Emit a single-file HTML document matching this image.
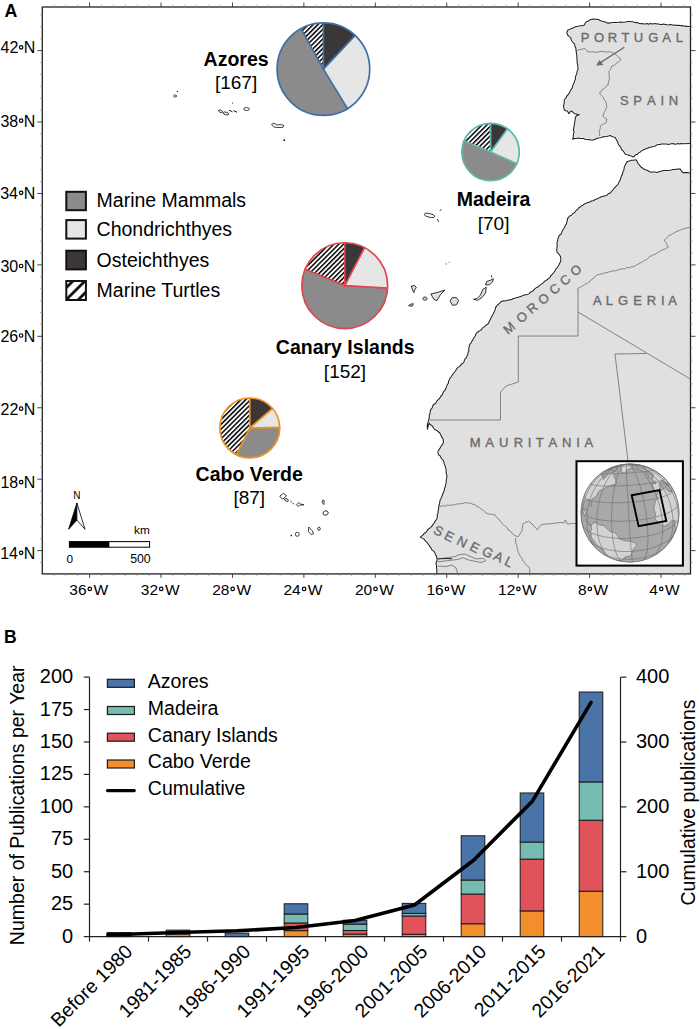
<!DOCTYPE html>
<html><head><meta charset="utf-8"><style>
html,body{margin:0;padding:0;background:#fff;overflow:hidden;width:700px;height:1029px;}
svg{display:block;}
text{font-family:"Liberation Sans", sans-serif;}
</style></head><body>
<svg width="700" height="1029" viewBox="0 0 700 1029" font-family='"Liberation Sans", sans-serif'>
<defs>
<pattern id="hatch" patternUnits="userSpaceOnUse" width="3.4" height="3.4" patternTransform="rotate(45)">
<rect width="3.4" height="3.4" fill="#fff"/><rect width="1.5" height="3.4" fill="#000"/>
</pattern>
<pattern id="hatchL" patternUnits="userSpaceOnUse" width="8.5" height="8.5" patternTransform="translate(76,300) rotate(45)">
<rect width="8.5" height="8.5" fill="#fff"/><rect x="0" width="2.8" height="8.5" fill="#111"/>
</pattern>
<clipPath id="mapclip"><rect x="42.3" y="7" width="648.2" height="566.9"/></clipPath>
</defs>

<g clip-path="url(#mapclip)">
<path d="M691.0,26.5 L689.2,26.5 L687.4,26.5 L685.7,25.9 L683.9,26.2 L682.1,25.6 L680.4,25.6 L678.6,25.3 L676.8,25.6 L675.2,25.0 L673.4,25.3 L671.7,24.8 L670.0,24.6 L668.4,24.9 L666.8,24.8 L665.2,24.4 L663.6,24.0 L661.9,24.6 L660.3,24.4 L658.7,24.0 L657.1,24.0 L655.4,23.6 L653.8,23.8 L652.1,24.0 L650.4,23.4 L648.8,24.2 L647.1,23.4 L645.4,23.9 L643.8,24.0 L642.1,23.6 L640.4,23.7 L638.9,23.2 L637.3,22.5 L635.7,22.8 L634.1,22.2 L632.5,21.8 L630.9,21.8 L629.3,21.4 L627.5,21.5 L625.8,22.1 L624.0,22.2 L622.2,22.2 L620.4,21.9 L618.6,22.3 L616.8,22.5 L615.0,22.5 L613.1,22.6 L611.3,22.8 L609.4,23.1 L607.5,23.1 L605.9,22.2 L604.1,21.7 L602.3,21.2 L600.5,20.7 L598.8,19.8 L597.0,19.2 L595.3,19.2 L593.5,18.9 L591.8,19.2 L589.9,19.9 L588.4,21.1 L586.5,21.8 L585.1,23.2 L584.5,25.1 L582.3,25.8 L580.0,25.8 L578.3,26.3 L576.4,26.4 L574.7,27.1 L573.2,28.0 L571.4,28.4 L569.9,29.4 L568.1,29.7 L566.8,32.3 L567.5,34.9 L569.1,36.4 L570.8,37.6 L571.2,39.6 L572.1,41.5 L573.4,42.8 L574.7,44.1 L574.8,45.9 L575.7,47.6 L576.0,49.4 L576.1,51.2 L576.4,52.9 L576.7,54.6 L576.8,56.3 L577.0,57.9 L576.8,59.6 L577.3,61.2 L577.1,62.9 L577.7,64.5 L577.7,66.2 L578.0,67.8 L578.1,69.5 L577.2,71.0 L576.9,72.6 L576.7,74.3 L575.8,75.8 L575.4,77.5 L575.4,79.3 L574.7,80.9 L574.1,82.7 L573.2,84.3 L572.7,86.1 L572.2,88.1 L571.0,89.6 L570.1,91.4 L569.2,93.1 L568.2,94.7 L566.8,96.0 L566.3,97.7 L564.9,98.9 L564.2,100.6 L564.3,102.4 L564.0,104.1 L563.5,105.8 L563.9,107.8 L564.2,109.8 L565.7,110.8 L567.5,111.1 L568.8,113.7 L569.9,112.1 L571.5,111.0 L573.1,112.3 L574.7,113.7 L576.3,114.1 L577.8,114.8 L579.5,114.8 L577.6,115.3 L576.0,116.3 L575.2,118.0 L575.3,119.9 L574.7,121.6 L574.6,123.3 L574.5,124.9 L573.8,126.5 L574.0,128.2 L573.4,129.8 L574.0,131.5 L573.8,133.1 L573.4,134.7 L573.3,137.0 L572.7,139.3 L574.6,138.6 L576.6,138.4 L578.6,138.0 L580.2,138.4 L581.9,138.4 L583.6,138.5 L585.2,139.3 L586.9,139.4 L588.5,139.5 L590.1,139.9 L591.8,140.0 L593.5,139.9 L595.1,139.2 L596.7,138.5 L598.3,138.0 L600.0,137.8 L601.6,137.5 L603.2,136.6 L604.9,136.7 L606.7,136.6 L608.4,136.1 L610.1,135.4 L611.6,136.3 L613.3,136.9 L615.0,137.3 L615.9,138.8 L616.6,140.4 L617.7,141.8 L618.0,143.6 L618.9,145.1 L620.1,146.3 L620.9,147.8 L621.4,149.4 L622.7,150.5 L623.8,151.8 L624.7,153.2 L625.7,154.6 L627.4,154.7 L628.9,155.2 L630.4,155.8 L632.0,156.3 L633.4,157.1 L634.6,156.0 L635.7,154.7 L637.5,154.2 L638.6,152.9 L640.2,152.1 L641.4,150.9 L643.0,150.1 L644.6,149.4 L646.3,148.6 L648.0,148.0 L649.6,147.2 L651.4,146.9 L653.2,146.6 L655.0,146.2 L656.6,145.1 L658.3,144.6 L660.0,144.5 L661.6,144.1 L663.3,144.0 L665.0,144.1 L666.6,144.0 L668.3,144.4 L670.0,144.0 L671.6,143.7 L673.2,143.5 L674.8,144.3 L676.5,143.9 L678.1,143.6 L679.7,143.9 L681.3,143.4 L682.9,143.8 L691.0,143.5 Z" fill="#e0e0e0"/>
<path d="M691.0,173.3 L689.4,173.1 L687.8,172.6 L686.2,172.6 L684.6,172.6 L683.0,172.6 L681.8,171.5 L680.9,170.1 L680.0,168.8 L678.4,169.3 L676.8,169.0 L675.2,169.4 L673.6,169.4 L672.0,169.8 L669.9,170.2 L667.8,170.5 L665.7,170.5 L663.8,170.6 L662.0,170.9 L660.2,171.5 L658.4,171.9 L656.6,172.6 L654.9,172.1 L653.2,171.9 L651.4,172.2 L649.7,171.7 L648.0,170.8 L646.2,170.1 L644.4,169.5 L642.9,168.3 L641.2,167.2 L639.9,165.6 L638.6,164.0 L637.5,162.7 L637.0,161.0 L636.0,159.7 L633.4,160.2 L631.3,160.2 L629.4,161.0 L627.4,161.4 L625.7,164.0 L624.8,165.9 L624.1,167.9 L624.0,170.0 L623.0,171.3 L622.8,173.0 L622.3,174.6 L621.4,176.0 L620.9,177.8 L620.3,179.5 L619.6,181.3 L618.6,182.8 L618.0,184.6 L616.5,185.6 L615.4,187.1 L613.9,188.4 L612.9,190.1 L611.5,191.5 L610.3,193.1 L608.4,193.7 L607.0,195.2 L605.1,195.7 L603.3,196.2 L601.6,196.7 L599.9,197.5 L598.2,198.2 L596.6,199.1 L594.9,199.8 L593.3,200.8 L591.3,201.0 L589.8,202.0 L588.0,202.6 L586.2,203.2 L584.4,203.9 L582.9,205.2 L581.1,206.0 L580.0,207.2 L578.5,208.0 L577.7,209.4 L576.3,210.3 L575.3,211.8 L574.1,212.9 L572.6,213.7 L571.5,215.2 L569.7,216.0 L568.5,217.4 L567.4,218.9 L567.4,220.6 L566.6,222.3 L566.6,224.0 L565.4,225.2 L564.8,226.7 L564.1,228.2 L563.1,229.5 L562.3,230.9 L561.7,232.6 L561.0,234.2 L559.3,235.3 L558.7,237.0 L558.0,238.6 L557.7,240.6 L557.0,242.5 L557.1,244.6 L557.2,246.5 L556.8,248.4 L556.8,250.4 L557.1,252.3 L558.5,253.6 L559.6,255.0 L560.6,256.6 L560.8,258.3 L560.8,260.0 L560.6,261.7 L559.7,263.1 L559.1,264.7 L558.1,266.0 L557.4,267.6 L556.0,268.7 L555.4,270.3 L554.5,271.7 L553.4,273.0 L552.3,274.3 L551.0,275.5 L550.3,277.1 L548.6,278.6 L546.9,280.0 L545.1,280.9 L543.7,282.4 L542.1,283.6 L540.7,284.6 L539.2,285.6 L538.1,287.0 L536.5,287.6 L535.0,288.6 L533.8,290.1 L532.4,291.4 L530.5,292.1 L529.3,293.6 L527.7,294.4 L525.9,294.7 L524.1,295.1 L522.4,295.8 L520.7,296.4 L519.0,297.1 L517.3,297.5 L515.5,298.1 L513.7,298.5 L512.1,299.3 L510.4,300.0 L508.5,299.9 L506.8,300.6 L505.0,300.9 L503.1,300.8 L501.4,301.4 L500.1,302.6 L498.9,303.9 L497.5,305.0 L496.4,306.4 L495.4,307.9 L495.2,309.8 L494.5,311.4 L493.6,312.9 L492.9,314.5 L492.1,316.1 L491.1,317.6 L490.5,319.3 L489.6,320.8 L488.8,322.4 L488.0,324.0 L486.4,324.8 L485.2,326.1 L483.8,327.1 L482.4,328.1 L481.5,329.7 L480.0,330.6 L478.4,331.5 L477.1,332.7 L476.0,334.0 L475.4,335.6 L474.6,337.0 L473.5,338.3 L472.9,339.9 L471.9,341.3 L471.2,342.8 L470.0,344.0 L469.5,345.6 L469.1,347.3 L468.6,348.9 L469.0,350.7 L468.1,352.3 L468.0,354.0 L467.1,355.5 L466.7,357.3 L465.3,358.6 L464.4,360.2 L464.0,362.0 L463.0,363.3 L461.4,364.0 L460.6,365.5 L459.4,366.6 L458.0,367.4 L456.9,368.6 L456.0,370.0 L455.2,371.5 L454.0,372.7 L453.0,374.0 L452.1,375.4 L451.2,376.8 L450.0,378.0 L449.5,379.7 L448.5,381.3 L448.4,383.2 L447.3,384.6 L446.7,386.4 L446.0,388.0 L445.5,389.7 L444.4,390.9 L443.3,392.2 L442.6,393.7 L442.1,395.3 L440.5,396.3 L440.0,398.0 L438.6,399.3 L437.2,400.6 L436.3,402.3 L435.0,403.8 L433.3,404.7 L432.7,406.3 L432.1,408.0 L431.0,409.3 L430.2,411.2 L430.1,413.3 L429.3,415.2 L429.3,417.5 L428.7,419.8 L428.3,421.6 L427.7,423.3 L427.3,425.3 L427.3,427.2 L427.5,429.2 L427.9,427.2 L428.4,425.2 L429.3,423.3 L430.5,424.8 L432.2,425.7 L433.1,427.1 L434.0,428.5 L435.1,429.8 L436.7,430.3 L438.0,431.5 L439.8,433.0 L440.9,435.0 L441.5,436.6 L442.6,438.1 L443.3,439.7 L443.4,442.1 L442.7,444.4 L441.2,445.9 L440.3,447.9 L439.0,449.6 L438.0,451.4 L438.0,453.2 L438.6,454.9 L440.0,455.8 L440.9,457.2 L441.6,458.9 L443.2,460.1 L443.9,461.9 L444.2,463.9 L445.1,465.8 L445.6,467.7 L446.0,469.4 L446.2,471.2 L446.1,473.0 L446.8,474.7 L446.9,476.5 L446.8,478.2 L446.3,479.9 L446.2,481.7 L446.0,483.5 L445.6,485.3 L445.1,487.0 L444.4,488.7 L444.2,490.6 L443.5,492.3 L442.8,494.0 L442.1,495.7 L441.5,497.7 L440.3,499.5 L439.8,501.6 L439.6,503.6 L439.0,505.5 L438.6,507.4 L438.6,509.2 L438.1,510.9 L438.1,512.7 L437.4,514.4 L437.3,516.1 L437.2,517.9 L436.5,519.5 L435.2,521.1 L434.2,523.0 L433.1,524.3 L432.3,525.8 L431.0,527.0 L429.7,528.3 L428.1,529.4 L427.0,531.0 L426.1,532.4 L424.5,533.1 L423.5,534.5 L421.9,535.8 L420.3,537.1 L422.2,538.1 L424.1,539.1 L425.2,540.8 L426.8,542.1 L428.0,543.7 L429.0,545.1 L429.9,546.7 L431.0,548.0 L432.0,549.9 L433.7,551.1 L434.9,552.8 L435.5,554.7 L436.7,556.4 L436.8,558.2 L437.3,560.0 L436.5,561.5 L436.0,563.0 L436.3,564.7 L436.5,566.3 L436.5,568.0 L436.9,569.7 L436.8,571.4 L436.9,573.1 L436.3,574.8 L436.7,576.5 L436.8,578.2 L436.9,579.9 L436.2,581.6 L436.2,583.3 L436.5,585.0 L691.0,585.0 Z" fill="#e0e0e0"/>
<path d="M576.0,50.7 L577.8,50.4 L579.5,49.6 L581.3,49.4 L583.2,48.8 L585.2,48.7 L586.2,49.7 L587.0,50.9 L587.8,52.0 L589.4,51.7 L591.1,52.0 L592.8,51.8 L594.4,52.0 L596.1,52.3 L597.7,52.1 L599.4,51.6 L601.0,51.4 L602.6,51.3 L604.2,52.1 L605.9,51.7 L607.5,52.0 L609.0,52.0 L610.5,51.9 L612.0,52.5 L613.5,53.2 L615.0,54.0 L616.2,54.9 L617.4,55.9 L618.6,56.8 L619.9,58.3 L620.7,60.0 L619.3,61.1 L618.1,62.5 L616.4,63.2 L615.3,64.2 L614.2,65.2 L612.8,65.8 L611.5,66.5 L611.2,68.0 L610.5,69.3 L609.6,70.5 L608.8,71.7 L609.2,73.3 L609.1,75.0 L609.3,76.7 L609.5,78.3 L609.0,79.9 L608.7,81.5 L608.3,83.1 L608.2,84.8 L606.8,85.5 L606.0,86.9 L604.9,87.9 L603.6,88.8 L602.0,89.8 L601.2,91.6 L599.6,92.7 L600.3,94.1 L601.3,95.4 L602.3,96.6 L603.6,97.7 L604.0,99.4 L604.9,100.8 L606.2,101.9 L606.3,103.6 L606.5,105.4 L606.9,107.1 L606.0,108.3 L605.8,109.9 L604.9,111.1 L604.2,112.4 L603.5,114.3 L602.9,116.3 L604.1,117.4 L605.4,118.3 L606.9,119.0 L606.3,120.9 L606.2,122.9 L604.8,123.5 L603.4,123.9 L602.2,124.7 L600.9,125.5 L600.3,126.8 L600.2,128.2 L599.9,129.6 L599.0,130.8 L599.5,132.5 L599.5,134.3 L599.6,136.0" fill="none" stroke="#777" stroke-width="0.9" stroke-linejoin="round"/>
<path d="M691.0,227.1 L689.7,227.8 L688.2,227.5 L686.9,228.1 L685.5,228.4 L684.1,228.8 L682.7,229.1 L681.4,229.6 L680.0,230.0 L678.9,231.0 L677.3,231.0 L676.1,231.7 L674.9,232.5 L673.7,233.1 L672.3,233.7 L671.3,234.8 L669.8,234.9 L668.6,235.7 L667.7,236.9 L666.7,238.1 L665.5,239.1 L664.3,240.0 L665.0,241.5 L666.2,242.7 L666.7,244.4 L667.4,245.9 L668.6,247.1 L667.2,247.8 L665.8,248.6 L664.3,249.3 L662.8,249.8 L661.3,250.5 L660.0,251.4 L658.7,252.0 L657.4,252.6 L656.3,253.7 L655.0,254.3 L653.7,254.8 L652.2,255.1 L651.1,256.1 L649.7,256.6 L648.5,257.4 L647.7,258.7 L646.5,259.5 L645.3,260.2 L643.9,260.7 L642.9,261.7 L641.5,262.2 L640.3,262.9 L639.1,263.8 L637.7,264.3 L636.5,265.0 L635.2,265.6 L634.0,266.6 L632.6,266.9 L631.0,266.9 L629.7,267.8 L628.0,267.4 L626.5,267.8 L625.2,268.9 L623.6,268.8 L622.0,268.8 L620.6,269.4 L619.0,269.3 L617.6,270.1 L616.1,270.6 L614.7,271.0 L613.0,270.6 L611.7,271.6 L610.1,271.6 L608.6,272.0 L607.2,272.7 L605.6,272.8 L604.0,272.9 L602.7,274.0 L601.0,273.8 L599.6,274.5 L598.0,274.6 L596.6,275.4 L595.2,276.4 L594.2,277.9 L592.5,278.6 L591.4,280.0 L590.0,281.0 L588.8,282.4 L587.4,283.4 L585.7,284.0 L584.4,284.7 L583.2,285.5 L581.9,286.3 L580.7,287.1 L579.4,287.7 L578.0,288.3" fill="none" stroke="#777" stroke-width="0.9" stroke-linejoin="round"/>
<path d="M578.0,288.0 L578.0,336.0 L518.3,336.0 L518.3,382.0 L506.0,386.0 L500.5,392.0 L500.5,420.0 L428.7,420.0" fill="none" stroke="#777" stroke-width="0.9" stroke-linejoin="round"/>
<path d="M578.0,312.0 L692.0,380.0" fill="none" stroke="#777" stroke-width="0.9" stroke-linejoin="round"/>
<path d="M615.0,354.0 L646.0,353.5" fill="none" stroke="#777" stroke-width="0.9" stroke-linejoin="round"/>
<path d="M615.0,354.0 L628.0,461.0" fill="none" stroke="#777" stroke-width="0.9" stroke-linejoin="round"/>
<path d="M438.8,506.4 L440.3,506.1 L441.9,506.3 L443.3,505.5 L444.9,505.9 L446.4,505.8 L447.8,505.0 L449.4,505.5 L450.9,505.0 L452.5,504.9 L454.2,504.9 L455.7,504.2 L457.4,504.0 L459.0,503.9 L460.4,503.6 L461.9,503.8 L463.2,503.3 L464.6,502.8 L466.0,502.7 L467.4,502.9 L468.8,503.1 L470.2,503.2 L471.6,503.5 L472.9,504.4 L474.3,504.4 L475.7,505.1 L476.7,506.4 L478.3,506.8 L479.5,507.7 L480.7,508.7 L482.0,509.6 L483.4,510.4 L484.6,511.4 L485.6,512.7 L487.1,513.4 L488.6,514.0 L490.2,514.2 L491.8,514.3 L493.3,514.8 L494.9,514.7 L495.6,516.2 L496.9,517.3 L497.8,518.6 L499.3,519.6 L500.0,521.1 L501.0,522.3 L502.2,523.3 L503.2,524.6 L504.3,525.6 L505.6,526.6 L506.9,527.5 L507.7,528.9 L508.5,530.2 L510.0,530.8 L510.9,532.1 L512.1,533.1 L513.1,534.1 L514.1,535.3 L516.0,536.1 L518.0,536.6 L519.3,535.5 L519.8,533.9 L521.0,532.8 L521.9,531.4 L522.0,529.8 L522.4,528.3 L522.5,526.8 L522.6,525.2 L523.1,523.7 L524.3,522.8 L525.6,522.2 L527.1,522.0 L528.3,521.1 L529.6,522.1 L531.0,522.9 L531.9,524.3 L533.4,525.0 L534.1,526.5 L535.4,527.5 L536.6,528.6 L537.3,530.1 L538.1,528.7 L538.9,527.4 L540.0,526.2 L541.1,525.0 L542.6,524.4 L544.2,524.3 L545.7,524.0 L547.3,524.0 L548.9,523.7 L550.3,523.9 L551.7,523.7 L553.1,523.3 L554.5,523.2 L555.9,523.1 L557.3,522.9 L558.7,522.7 L560.1,522.4 L561.5,522.5 L562.9,522.9 L564.3,522.4 L564.7,521.0 L565.6,519.9 L566.2,521.8 L566.9,523.7 L568.3,523.8 L569.8,524.0 L571.2,523.5 L572.7,523.5 L574.1,523.5 L575.6,523.6 L577.0,523.7" fill="none" stroke="#777" stroke-width="0.9" stroke-linejoin="round"/>
<path d="M515.4,537.9 L515.7,539.4 L515.5,541.0 L515.8,542.4 L516.0,543.9 L516.9,545.3 L516.7,546.9 L517.6,548.3 L517.6,550.0 L518.0,551.6 L518.8,553.1 L519.3,554.6 L520.1,555.9 L521.3,556.9 L521.9,558.4 L522.4,559.9 L523.3,561.2 L524.4,562.3 L525.2,563.8 L526.2,565.1 L527.7,566.0 L528.8,567.2 L529.6,568.7 L529.9,570.3 L529.6,571.9 L529.5,573.4 L529.6,575.0" fill="none" stroke="#777" stroke-width="0.9" stroke-linejoin="round"/>
<path d="M437.3,558.9 L449.0,557.5 L455.5,556.4 L459.1,554.6 L465.2,554.0 L470.0,556.4 L476.1,558.9 L483.4,558.3 L485.9,560.7 L481.0,562.5 L474.9,561.3 L468.9,560.1 L462.8,557.6 L457.9,559.5 L451.9,560.1 L437.3,561.9" fill="none" stroke="#777" stroke-width="0.9" stroke-linejoin="round"/>
<path d="M436.5,566.0 L446.0,566.5 L452.0,565.0 L456.0,568.0 L458.0,575.0" fill="none" stroke="#777" stroke-width="0.9" stroke-linejoin="round"/>
<path d="M437.3,558.9 L445.0,558.5 L452.0,558.8" fill="none" stroke="#222" stroke-width="1.0" stroke-linejoin="round"/>
<path d="M691.0,26.5 L689.2,26.5 L687.4,26.5 L685.7,25.9 L683.9,26.2 L682.1,25.6 L680.4,25.6 L678.6,25.3 L676.8,25.6 L675.2,25.0 L673.4,25.3 L671.7,24.8 L670.0,24.6 L668.4,24.9 L666.8,24.8 L665.2,24.4 L663.6,24.0 L661.9,24.6 L660.3,24.4 L658.7,24.0 L657.1,24.0 L655.4,23.6 L653.8,23.8 L652.1,24.0 L650.4,23.4 L648.8,24.2 L647.1,23.4 L645.4,23.9 L643.8,24.0 L642.1,23.6 L640.4,23.7 L638.9,23.2 L637.3,22.5 L635.7,22.8 L634.1,22.2 L632.5,21.8 L630.9,21.8 L629.3,21.4 L627.5,21.5 L625.8,22.1 L624.0,22.2 L622.2,22.2 L620.4,21.9 L618.6,22.3 L616.8,22.5 L615.0,22.5 L613.1,22.6 L611.3,22.8 L609.4,23.1 L607.5,23.1 L605.9,22.2 L604.1,21.7 L602.3,21.2 L600.5,20.7 L598.8,19.8 L597.0,19.2 L595.3,19.2 L593.5,18.9 L591.8,19.2 L589.9,19.9 L588.4,21.1 L586.5,21.8 L585.1,23.2 L584.5,25.1 L582.3,25.8 L580.0,25.8 L578.3,26.3 L576.4,26.4 L574.7,27.1 L573.2,28.0 L571.4,28.4 L569.9,29.4 L568.1,29.7 L566.8,32.3 L567.5,34.9 L569.1,36.4 L570.8,37.6 L571.2,39.6 L572.1,41.5 L573.4,42.8 L574.7,44.1 L574.8,45.9 L575.7,47.6 L576.0,49.4 L576.1,51.2 L576.4,52.9 L576.7,54.6 L576.8,56.3 L577.0,57.9 L576.8,59.6 L577.3,61.2 L577.1,62.9 L577.7,64.5 L577.7,66.2 L578.0,67.8 L578.1,69.5 L577.2,71.0 L576.9,72.6 L576.7,74.3 L575.8,75.8 L575.4,77.5 L575.4,79.3 L574.7,80.9 L574.1,82.7 L573.2,84.3 L572.7,86.1 L572.2,88.1 L571.0,89.6 L570.1,91.4 L569.2,93.1 L568.2,94.7 L566.8,96.0 L566.3,97.7 L564.9,98.9 L564.2,100.6 L564.3,102.4 L564.0,104.1 L563.5,105.8 L563.9,107.8 L564.2,109.8 L565.7,110.8 L567.5,111.1 L568.8,113.7 L569.9,112.1 L571.5,111.0 L573.1,112.3 L574.7,113.7 L576.3,114.1 L577.8,114.8 L579.5,114.8 L577.6,115.3 L576.0,116.3 L575.2,118.0 L575.3,119.9 L574.7,121.6 L574.6,123.3 L574.5,124.9 L573.8,126.5 L574.0,128.2 L573.4,129.8 L574.0,131.5 L573.8,133.1 L573.4,134.7 L573.3,137.0 L572.7,139.3 L574.6,138.6 L576.6,138.4 L578.6,138.0 L580.2,138.4 L581.9,138.4 L583.6,138.5 L585.2,139.3 L586.9,139.4 L588.5,139.5 L590.1,139.9 L591.8,140.0 L593.5,139.9 L595.1,139.2 L596.7,138.5 L598.3,138.0 L600.0,137.8 L601.6,137.5 L603.2,136.6 L604.9,136.7 L606.7,136.6 L608.4,136.1 L610.1,135.4 L611.6,136.3 L613.3,136.9 L615.0,137.3 L615.9,138.8 L616.6,140.4 L617.7,141.8 L618.0,143.6 L618.9,145.1 L620.1,146.3 L620.9,147.8 L621.4,149.4 L622.7,150.5 L623.8,151.8 L624.7,153.2 L625.7,154.6 L627.4,154.7 L628.9,155.2 L630.4,155.8 L632.0,156.3 L633.4,157.1 L634.6,156.0 L635.7,154.7 L637.5,154.2 L638.6,152.9 L640.2,152.1 L641.4,150.9 L643.0,150.1 L644.6,149.4 L646.3,148.6 L648.0,148.0 L649.6,147.2 L651.4,146.9 L653.2,146.6 L655.0,146.2 L656.6,145.1 L658.3,144.6 L660.0,144.5 L661.6,144.1 L663.3,144.0 L665.0,144.1 L666.6,144.0 L668.3,144.4 L670.0,144.0 L671.6,143.7 L673.2,143.5 L674.8,144.3 L676.5,143.9 L678.1,143.6 L679.7,143.9 L681.3,143.4 L682.9,143.8 L691.0,143.5" fill="none" stroke="#fff" stroke-width="2.3" stroke-opacity="0.5" stroke-linejoin="round"/>
<path d="M691.0,173.3 L689.4,173.1 L687.8,172.6 L686.2,172.6 L684.6,172.6 L683.0,172.6 L681.8,171.5 L680.9,170.1 L680.0,168.8 L678.4,169.3 L676.8,169.0 L675.2,169.4 L673.6,169.4 L672.0,169.8 L669.9,170.2 L667.8,170.5 L665.7,170.5 L663.8,170.6 L662.0,170.9 L660.2,171.5 L658.4,171.9 L656.6,172.6 L654.9,172.1 L653.2,171.9 L651.4,172.2 L649.7,171.7 L648.0,170.8 L646.2,170.1 L644.4,169.5 L642.9,168.3 L641.2,167.2 L639.9,165.6 L638.6,164.0 L637.5,162.7 L637.0,161.0 L636.0,159.7 L633.4,160.2 L631.3,160.2 L629.4,161.0 L627.4,161.4 L625.7,164.0 L624.8,165.9 L624.1,167.9 L624.0,170.0 L623.0,171.3 L622.8,173.0 L622.3,174.6 L621.4,176.0 L620.9,177.8 L620.3,179.5 L619.6,181.3 L618.6,182.8 L618.0,184.6 L616.5,185.6 L615.4,187.1 L613.9,188.4 L612.9,190.1 L611.5,191.5 L610.3,193.1 L608.4,193.7 L607.0,195.2 L605.1,195.7 L603.3,196.2 L601.6,196.7 L599.9,197.5 L598.2,198.2 L596.6,199.1 L594.9,199.8 L593.3,200.8 L591.3,201.0 L589.8,202.0 L588.0,202.6 L586.2,203.2 L584.4,203.9 L582.9,205.2 L581.1,206.0 L580.0,207.2 L578.5,208.0 L577.7,209.4 L576.3,210.3 L575.3,211.8 L574.1,212.9 L572.6,213.7 L571.5,215.2 L569.7,216.0 L568.5,217.4 L567.4,218.9 L567.4,220.6 L566.6,222.3 L566.6,224.0 L565.4,225.2 L564.8,226.7 L564.1,228.2 L563.1,229.5 L562.3,230.9 L561.7,232.6 L561.0,234.2 L559.3,235.3 L558.7,237.0 L558.0,238.6 L557.7,240.6 L557.0,242.5 L557.1,244.6 L557.2,246.5 L556.8,248.4 L556.8,250.4 L557.1,252.3 L558.5,253.6 L559.6,255.0 L560.6,256.6 L560.8,258.3 L560.8,260.0 L560.6,261.7 L559.7,263.1 L559.1,264.7 L558.1,266.0 L557.4,267.6 L556.0,268.7 L555.4,270.3 L554.5,271.7 L553.4,273.0 L552.3,274.3 L551.0,275.5 L550.3,277.1 L548.6,278.6 L546.9,280.0 L545.1,280.9 L543.7,282.4 L542.1,283.6 L540.7,284.6 L539.2,285.6 L538.1,287.0 L536.5,287.6 L535.0,288.6 L533.8,290.1 L532.4,291.4 L530.5,292.1 L529.3,293.6 L527.7,294.4 L525.9,294.7 L524.1,295.1 L522.4,295.8 L520.7,296.4 L519.0,297.1 L517.3,297.5 L515.5,298.1 L513.7,298.5 L512.1,299.3 L510.4,300.0 L508.5,299.9 L506.8,300.6 L505.0,300.9 L503.1,300.8 L501.4,301.4 L500.1,302.6 L498.9,303.9 L497.5,305.0 L496.4,306.4 L495.4,307.9 L495.2,309.8 L494.5,311.4 L493.6,312.9 L492.9,314.5 L492.1,316.1 L491.1,317.6 L490.5,319.3 L489.6,320.8 L488.8,322.4 L488.0,324.0 L486.4,324.8 L485.2,326.1 L483.8,327.1 L482.4,328.1 L481.5,329.7 L480.0,330.6 L478.4,331.5 L477.1,332.7 L476.0,334.0 L475.4,335.6 L474.6,337.0 L473.5,338.3 L472.9,339.9 L471.9,341.3 L471.2,342.8 L470.0,344.0 L469.5,345.6 L469.1,347.3 L468.6,348.9 L469.0,350.7 L468.1,352.3 L468.0,354.0 L467.1,355.5 L466.7,357.3 L465.3,358.6 L464.4,360.2 L464.0,362.0 L463.0,363.3 L461.4,364.0 L460.6,365.5 L459.4,366.6 L458.0,367.4 L456.9,368.6 L456.0,370.0 L455.2,371.5 L454.0,372.7 L453.0,374.0 L452.1,375.4 L451.2,376.8 L450.0,378.0 L449.5,379.7 L448.5,381.3 L448.4,383.2 L447.3,384.6 L446.7,386.4 L446.0,388.0 L445.5,389.7 L444.4,390.9 L443.3,392.2 L442.6,393.7 L442.1,395.3 L440.5,396.3 L440.0,398.0 L438.6,399.3 L437.2,400.6 L436.3,402.3 L435.0,403.8 L433.3,404.7 L432.7,406.3 L432.1,408.0 L431.0,409.3 L430.2,411.2 L430.1,413.3 L429.3,415.2 L429.3,417.5 L428.7,419.8 L428.3,421.6 L427.7,423.3 L427.3,425.3 L427.3,427.2 L427.5,429.2 L427.9,427.2 L428.4,425.2 L429.3,423.3 L430.5,424.8 L432.2,425.7 L433.1,427.1 L434.0,428.5 L435.1,429.8 L436.7,430.3 L438.0,431.5 L439.8,433.0 L440.9,435.0 L441.5,436.6 L442.6,438.1 L443.3,439.7 L443.4,442.1 L442.7,444.4 L441.2,445.9 L440.3,447.9 L439.0,449.6 L438.0,451.4 L438.0,453.2 L438.6,454.9 L440.0,455.8 L440.9,457.2 L441.6,458.9 L443.2,460.1 L443.9,461.9 L444.2,463.9 L445.1,465.8 L445.6,467.7 L446.0,469.4 L446.2,471.2 L446.1,473.0 L446.8,474.7 L446.9,476.5 L446.8,478.2 L446.3,479.9 L446.2,481.7 L446.0,483.5 L445.6,485.3 L445.1,487.0 L444.4,488.7 L444.2,490.6 L443.5,492.3 L442.8,494.0 L442.1,495.7 L441.5,497.7 L440.3,499.5 L439.8,501.6 L439.6,503.6 L439.0,505.5 L438.6,507.4 L438.6,509.2 L438.1,510.9 L438.1,512.7 L437.4,514.4 L437.3,516.1 L437.2,517.9 L436.5,519.5 L435.2,521.1 L434.2,523.0 L433.1,524.3 L432.3,525.8 L431.0,527.0 L429.7,528.3 L428.1,529.4 L427.0,531.0 L426.1,532.4 L424.5,533.1 L423.5,534.5 L421.9,535.8 L420.3,537.1 L422.2,538.1 L424.1,539.1 L425.2,540.8 L426.8,542.1 L428.0,543.7 L429.0,545.1 L429.9,546.7 L431.0,548.0 L432.0,549.9 L433.7,551.1 L434.9,552.8 L435.5,554.7 L436.7,556.4 L436.8,558.2 L437.3,560.0 L436.5,561.5 L436.0,563.0 L436.3,564.7 L436.5,566.3 L436.5,568.0 L436.9,569.7 L436.8,571.4 L436.9,573.1 L436.3,574.8 L436.7,576.5 L436.8,578.2 L436.9,579.9 L436.2,581.6 L436.2,583.3 L436.5,585.0" fill="none" stroke="#fff" stroke-width="2.3" stroke-opacity="0.5" stroke-linejoin="round"/>
<path d="M691.0,26.5 L689.2,26.5 L687.4,26.5 L685.7,25.9 L683.9,26.2 L682.1,25.6 L680.4,25.6 L678.6,25.3 L676.8,25.6 L675.2,25.0 L673.4,25.3 L671.7,24.8 L670.0,24.6 L668.4,24.9 L666.8,24.8 L665.2,24.4 L663.6,24.0 L661.9,24.6 L660.3,24.4 L658.7,24.0 L657.1,24.0 L655.4,23.6 L653.8,23.8 L652.1,24.0 L650.4,23.4 L648.8,24.2 L647.1,23.4 L645.4,23.9 L643.8,24.0 L642.1,23.6 L640.4,23.7 L638.9,23.2 L637.3,22.5 L635.7,22.8 L634.1,22.2 L632.5,21.8 L630.9,21.8 L629.3,21.4 L627.5,21.5 L625.8,22.1 L624.0,22.2 L622.2,22.2 L620.4,21.9 L618.6,22.3 L616.8,22.5 L615.0,22.5 L613.1,22.6 L611.3,22.8 L609.4,23.1 L607.5,23.1 L605.9,22.2 L604.1,21.7 L602.3,21.2 L600.5,20.7 L598.8,19.8 L597.0,19.2 L595.3,19.2 L593.5,18.9 L591.8,19.2 L589.9,19.9 L588.4,21.1 L586.5,21.8 L585.1,23.2 L584.5,25.1 L582.3,25.8 L580.0,25.8 L578.3,26.3 L576.4,26.4 L574.7,27.1 L573.2,28.0 L571.4,28.4 L569.9,29.4 L568.1,29.7 L566.8,32.3 L567.5,34.9 L569.1,36.4 L570.8,37.6 L571.2,39.6 L572.1,41.5 L573.4,42.8 L574.7,44.1 L574.8,45.9 L575.7,47.6 L576.0,49.4 L576.1,51.2 L576.4,52.9 L576.7,54.6 L576.8,56.3 L577.0,57.9 L576.8,59.6 L577.3,61.2 L577.1,62.9 L577.7,64.5 L577.7,66.2 L578.0,67.8 L578.1,69.5 L577.2,71.0 L576.9,72.6 L576.7,74.3 L575.8,75.8 L575.4,77.5 L575.4,79.3 L574.7,80.9 L574.1,82.7 L573.2,84.3 L572.7,86.1 L572.2,88.1 L571.0,89.6 L570.1,91.4 L569.2,93.1 L568.2,94.7 L566.8,96.0 L566.3,97.7 L564.9,98.9 L564.2,100.6 L564.3,102.4 L564.0,104.1 L563.5,105.8 L563.9,107.8 L564.2,109.8 L565.7,110.8 L567.5,111.1 L568.8,113.7 L569.9,112.1 L571.5,111.0 L573.1,112.3 L574.7,113.7 L576.3,114.1 L577.8,114.8 L579.5,114.8 L577.6,115.3 L576.0,116.3 L575.2,118.0 L575.3,119.9 L574.7,121.6 L574.6,123.3 L574.5,124.9 L573.8,126.5 L574.0,128.2 L573.4,129.8 L574.0,131.5 L573.8,133.1 L573.4,134.7 L573.3,137.0 L572.7,139.3 L574.6,138.6 L576.6,138.4 L578.6,138.0 L580.2,138.4 L581.9,138.4 L583.6,138.5 L585.2,139.3 L586.9,139.4 L588.5,139.5 L590.1,139.9 L591.8,140.0 L593.5,139.9 L595.1,139.2 L596.7,138.5 L598.3,138.0 L600.0,137.8 L601.6,137.5 L603.2,136.6 L604.9,136.7 L606.7,136.6 L608.4,136.1 L610.1,135.4 L611.6,136.3 L613.3,136.9 L615.0,137.3 L615.9,138.8 L616.6,140.4 L617.7,141.8 L618.0,143.6 L618.9,145.1 L620.1,146.3 L620.9,147.8 L621.4,149.4 L622.7,150.5 L623.8,151.8 L624.7,153.2 L625.7,154.6 L627.4,154.7 L628.9,155.2 L630.4,155.8 L632.0,156.3 L633.4,157.1 L634.6,156.0 L635.7,154.7 L637.5,154.2 L638.6,152.9 L640.2,152.1 L641.4,150.9 L643.0,150.1 L644.6,149.4 L646.3,148.6 L648.0,148.0 L649.6,147.2 L651.4,146.9 L653.2,146.6 L655.0,146.2 L656.6,145.1 L658.3,144.6 L660.0,144.5 L661.6,144.1 L663.3,144.0 L665.0,144.1 L666.6,144.0 L668.3,144.4 L670.0,144.0 L671.6,143.7 L673.2,143.5 L674.8,144.3 L676.5,143.9 L678.1,143.6 L679.7,143.9 L681.3,143.4 L682.9,143.8 L691.0,143.5" fill="none" stroke="#1e1e1e" stroke-width="1.05" stroke-linejoin="round"/>
<path d="M691.0,173.3 L689.4,173.1 L687.8,172.6 L686.2,172.6 L684.6,172.6 L683.0,172.6 L681.8,171.5 L680.9,170.1 L680.0,168.8 L678.4,169.3 L676.8,169.0 L675.2,169.4 L673.6,169.4 L672.0,169.8 L669.9,170.2 L667.8,170.5 L665.7,170.5 L663.8,170.6 L662.0,170.9 L660.2,171.5 L658.4,171.9 L656.6,172.6 L654.9,172.1 L653.2,171.9 L651.4,172.2 L649.7,171.7 L648.0,170.8 L646.2,170.1 L644.4,169.5 L642.9,168.3 L641.2,167.2 L639.9,165.6 L638.6,164.0 L637.5,162.7 L637.0,161.0 L636.0,159.7 L633.4,160.2 L631.3,160.2 L629.4,161.0 L627.4,161.4 L625.7,164.0 L624.8,165.9 L624.1,167.9 L624.0,170.0 L623.0,171.3 L622.8,173.0 L622.3,174.6 L621.4,176.0 L620.9,177.8 L620.3,179.5 L619.6,181.3 L618.6,182.8 L618.0,184.6 L616.5,185.6 L615.4,187.1 L613.9,188.4 L612.9,190.1 L611.5,191.5 L610.3,193.1 L608.4,193.7 L607.0,195.2 L605.1,195.7 L603.3,196.2 L601.6,196.7 L599.9,197.5 L598.2,198.2 L596.6,199.1 L594.9,199.8 L593.3,200.8 L591.3,201.0 L589.8,202.0 L588.0,202.6 L586.2,203.2 L584.4,203.9 L582.9,205.2 L581.1,206.0 L580.0,207.2 L578.5,208.0 L577.7,209.4 L576.3,210.3 L575.3,211.8 L574.1,212.9 L572.6,213.7 L571.5,215.2 L569.7,216.0 L568.5,217.4 L567.4,218.9 L567.4,220.6 L566.6,222.3 L566.6,224.0 L565.4,225.2 L564.8,226.7 L564.1,228.2 L563.1,229.5 L562.3,230.9 L561.7,232.6 L561.0,234.2 L559.3,235.3 L558.7,237.0 L558.0,238.6 L557.7,240.6 L557.0,242.5 L557.1,244.6 L557.2,246.5 L556.8,248.4 L556.8,250.4 L557.1,252.3 L558.5,253.6 L559.6,255.0 L560.6,256.6 L560.8,258.3 L560.8,260.0 L560.6,261.7 L559.7,263.1 L559.1,264.7 L558.1,266.0 L557.4,267.6 L556.0,268.7 L555.4,270.3 L554.5,271.7 L553.4,273.0 L552.3,274.3 L551.0,275.5 L550.3,277.1 L548.6,278.6 L546.9,280.0 L545.1,280.9 L543.7,282.4 L542.1,283.6 L540.7,284.6 L539.2,285.6 L538.1,287.0 L536.5,287.6 L535.0,288.6 L533.8,290.1 L532.4,291.4 L530.5,292.1 L529.3,293.6 L527.7,294.4 L525.9,294.7 L524.1,295.1 L522.4,295.8 L520.7,296.4 L519.0,297.1 L517.3,297.5 L515.5,298.1 L513.7,298.5 L512.1,299.3 L510.4,300.0 L508.5,299.9 L506.8,300.6 L505.0,300.9 L503.1,300.8 L501.4,301.4 L500.1,302.6 L498.9,303.9 L497.5,305.0 L496.4,306.4 L495.4,307.9 L495.2,309.8 L494.5,311.4 L493.6,312.9 L492.9,314.5 L492.1,316.1 L491.1,317.6 L490.5,319.3 L489.6,320.8 L488.8,322.4 L488.0,324.0 L486.4,324.8 L485.2,326.1 L483.8,327.1 L482.4,328.1 L481.5,329.7 L480.0,330.6 L478.4,331.5 L477.1,332.7 L476.0,334.0 L475.4,335.6 L474.6,337.0 L473.5,338.3 L472.9,339.9 L471.9,341.3 L471.2,342.8 L470.0,344.0 L469.5,345.6 L469.1,347.3 L468.6,348.9 L469.0,350.7 L468.1,352.3 L468.0,354.0 L467.1,355.5 L466.7,357.3 L465.3,358.6 L464.4,360.2 L464.0,362.0 L463.0,363.3 L461.4,364.0 L460.6,365.5 L459.4,366.6 L458.0,367.4 L456.9,368.6 L456.0,370.0 L455.2,371.5 L454.0,372.7 L453.0,374.0 L452.1,375.4 L451.2,376.8 L450.0,378.0 L449.5,379.7 L448.5,381.3 L448.4,383.2 L447.3,384.6 L446.7,386.4 L446.0,388.0 L445.5,389.7 L444.4,390.9 L443.3,392.2 L442.6,393.7 L442.1,395.3 L440.5,396.3 L440.0,398.0 L438.6,399.3 L437.2,400.6 L436.3,402.3 L435.0,403.8 L433.3,404.7 L432.7,406.3 L432.1,408.0 L431.0,409.3 L430.2,411.2 L430.1,413.3 L429.3,415.2 L429.3,417.5 L428.7,419.8 L428.3,421.6 L427.7,423.3 L427.3,425.3 L427.3,427.2 L427.5,429.2 L427.9,427.2 L428.4,425.2 L429.3,423.3 L430.5,424.8 L432.2,425.7 L433.1,427.1 L434.0,428.5 L435.1,429.8 L436.7,430.3 L438.0,431.5 L439.8,433.0 L440.9,435.0 L441.5,436.6 L442.6,438.1 L443.3,439.7 L443.4,442.1 L442.7,444.4 L441.2,445.9 L440.3,447.9 L439.0,449.6 L438.0,451.4 L438.0,453.2 L438.6,454.9 L440.0,455.8 L440.9,457.2 L441.6,458.9 L443.2,460.1 L443.9,461.9 L444.2,463.9 L445.1,465.8 L445.6,467.7 L446.0,469.4 L446.2,471.2 L446.1,473.0 L446.8,474.7 L446.9,476.5 L446.8,478.2 L446.3,479.9 L446.2,481.7 L446.0,483.5 L445.6,485.3 L445.1,487.0 L444.4,488.7 L444.2,490.6 L443.5,492.3 L442.8,494.0 L442.1,495.7 L441.5,497.7 L440.3,499.5 L439.8,501.6 L439.6,503.6 L439.0,505.5 L438.6,507.4 L438.6,509.2 L438.1,510.9 L438.1,512.7 L437.4,514.4 L437.3,516.1 L437.2,517.9 L436.5,519.5 L435.2,521.1 L434.2,523.0 L433.1,524.3 L432.3,525.8 L431.0,527.0 L429.7,528.3 L428.1,529.4 L427.0,531.0 L426.1,532.4 L424.5,533.1 L423.5,534.5 L421.9,535.8 L420.3,537.1 L422.2,538.1 L424.1,539.1 L425.2,540.8 L426.8,542.1 L428.0,543.7 L429.0,545.1 L429.9,546.7 L431.0,548.0 L432.0,549.9 L433.7,551.1 L434.9,552.8 L435.5,554.7 L436.7,556.4 L436.8,558.2 L437.3,560.0 L436.5,561.5 L436.0,563.0 L436.3,564.7 L436.5,566.3 L436.5,568.0 L436.9,569.7 L436.8,571.4 L436.9,573.1 L436.3,574.8 L436.7,576.5 L436.8,578.2 L436.9,579.9 L436.2,581.6 L436.2,583.3 L436.5,585.0" fill="none" stroke="#1e1e1e" stroke-width="1.05" stroke-linejoin="round"/>
</g>
<ellipse cx="175.2" cy="96" rx="1.4" ry="1.1" fill="none" stroke="#111" stroke-width="0.8"/>
<circle cx="177.4" cy="91.4" r="0.6" fill="#111"/>
<ellipse cx="220.6" cy="111.3" rx="2.2" ry="1.1" transform="rotate(25 220.6 111.3)" fill="none" stroke="#111" stroke-width="0.8"/>
<ellipse cx="226" cy="113.5" rx="2.8" ry="1.3" transform="rotate(15 226 113.5)" fill="none" stroke="#111" stroke-width="0.8"/>
<line x1="229" y1="110.2" x2="232.5" y2="111.8" stroke="#111" stroke-width="1"/>
<line x1="233.5" y1="110.5" x2="237" y2="112.3" stroke="#111" stroke-width="1"/>
<circle cx="232.4" cy="103" r="0.6" fill="#111"/>
<ellipse cx="246.5" cy="109" rx="2.8" ry="1.5" fill="none" stroke="#111" stroke-width="0.8"/>
<path d="M271.5,124.3 L274,123.2 L277,125 L281,124.6 L283.8,125.4 L283,127.3 L278,127.6 L274,127 Z" fill="none" stroke="#111" stroke-width="0.8"/>
<circle cx="284.3" cy="140.2" r="0.9" fill="#111"/>
<ellipse cx="429.5" cy="215.4" rx="5.3" ry="1.8" transform="rotate(12 429.5 215.4)" fill="none" stroke="#111" stroke-width="0.8"/>
<line x1="439.8" y1="211" x2="441.3" y2="209.3" stroke="#111" stroke-width="0.9"/>
<line x1="437.3" y1="219" x2="438.6" y2="221.7" stroke="#111" stroke-width="0.9"/>
<path d="M411.3,286 L414.8,285.6 L416.3,287.5 L414.4,290.5 L414,292.6 L412.6,290 Z" fill="#e0e0e0" stroke="#111" stroke-width="0.85"/>
<path d="M408.6,305.6 L411,304 L413.4,303.8 L412,306.4 Z" fill="#e0e0e0" stroke="#111" stroke-width="0.85"/>
<ellipse cx="425" cy="298.6" rx="2.1" ry="1.6" fill="#e0e0e0" stroke="#111" stroke-width="0.85"/>
<path d="M430.8,294 L437,292.5 L444.8,290 L440.5,294.5 L437,300.5 L434,299.5 Z" fill="#e0e0e0" stroke="#111" stroke-width="0.85"/>
<path d="M450,301 L452,297.8 L456.5,297.6 L458.6,300.5 L456.5,304.8 L452.5,305.3 Z" fill="#e0e0e0" stroke="#111" stroke-width="0.85"/>
<path d="M473.6,299.3 L477,298.6 L480.5,295 L482.7,289.5 L486.2,287.2 L485.6,293 L482,297.5 L477.5,300.3 Z" fill="#e0e0e0" stroke="#111" stroke-width="0.85"/>
<path d="M485.5,285 L486.7,281.5 L491,280 L493.4,278.7 L492.5,282 L489.5,284.6 Z" fill="#e0e0e0" stroke="#111" stroke-width="0.85"/>
<circle cx="446.2" cy="263.9" r="0.55" fill="#333"/>
<circle cx="449.1" cy="262.2" r="0.55" fill="#333"/>
<line x1="491.4" y1="275" x2="491.6" y2="277.6" stroke="#222" stroke-width="0.8"/>
<path d="M279.7,496 L283.6,493.4 L286.6,495.8 L282.6,499.3 Z" fill="none" stroke="#111" stroke-width="0.8"/>
<ellipse cx="286.5" cy="500" rx="2" ry="1.2" transform="rotate(25 286.5 500)" fill="none" stroke="#111" stroke-width="0.8"/>
<line x1="290.5" y1="501.2" x2="291.8" y2="502" stroke="#111" stroke-width="0.9"/>
<line x1="292.5" y1="502.8" x2="294" y2="504.3" stroke="#111" stroke-width="0.9"/>
<path d="M296.6,504.6 L299,502.6 L300.5,504 L304,504.8 L299.6,505.2 L298.2,506.6 Z" fill="none" stroke="#111" stroke-width="0.8"/>
<path d="M322.8,500 L324.2,500.6 L323.8,504.6 L322,502.2 Z" fill="none" stroke="#111" stroke-width="0.8"/>
<ellipse cx="325.6" cy="513" rx="2.7" ry="2.1" transform="rotate(-20 325.6 513)" fill="none" stroke="#111" stroke-width="0.8"/>
<ellipse cx="319" cy="528.8" rx="1.3" ry="1.6" fill="none" stroke="#111" stroke-width="0.8"/>
<path d="M308.8,527 L312,530.5 L313.6,533.8 L311.2,534.7 L308.4,531.4 Z" fill="none" stroke="#111" stroke-width="0.8"/>
<circle cx="297.3" cy="534.3" r="2" fill="none" stroke="#111" stroke-width="0.8"/>
<circle cx="291.3" cy="535.6" r="0.8" fill="#111"/>
<text x="580.63 593.98 607.63 621.61 633.80 648.35 662.17 675.63" y="42.2" font-size="13" fill="#6b6b6b" stroke="#6b6b6b" stroke-width="0.35" >PORTUGAL</text>
<text x="620.11 633.33 647.07 660.60 668.73" y="104.5" font-size="13" fill="#6b6b6b" stroke="#6b6b6b" stroke-width="0.35" >SPAIN</text>
<text x="593.07 605.73 617.95 633.23 646.73 661.10 668.27" y="305.3" font-size="13" fill="#6b6b6b" stroke="#6b6b6b" stroke-width="0.35" >ALGERIA</text>
<text x="469.73 485.17 499.00 513.83 527.80 535.71 548.47 561.93 576.30 584.47" y="446.6" font-size="13" fill="#6b6b6b" stroke="#6b6b6b" stroke-width="0.35" >MAURITANIA</text>
<text transform="translate(509.1,328) rotate(-40.8)" y="4.47" text-anchor="middle" font-size="13" fill="#6b6b6b" stroke="#6b6b6b" stroke-width="0.35">M</text>
<text transform="translate(521.9,317.1) rotate(-40.8)" y="4.47" text-anchor="middle" font-size="13" fill="#6b6b6b" stroke="#6b6b6b" stroke-width="0.35">O</text>
<text transform="translate(532.2,308) rotate(-40.8)" y="4.47" text-anchor="middle" font-size="13" fill="#6b6b6b" stroke="#6b6b6b" stroke-width="0.35">R</text>
<text transform="translate(543.7,298.9) rotate(-40.8)" y="4.47" text-anchor="middle" font-size="13" fill="#6b6b6b" stroke="#6b6b6b" stroke-width="0.35">O</text>
<text transform="translate(554.6,289.1) rotate(-40.8)" y="4.47" text-anchor="middle" font-size="13" fill="#6b6b6b" stroke="#6b6b6b" stroke-width="0.35">C</text>
<text transform="translate(565,280) rotate(-40.8)" y="4.47" text-anchor="middle" font-size="13" fill="#6b6b6b" stroke="#6b6b6b" stroke-width="0.35">C</text>
<text transform="translate(575.9,270.3) rotate(-40.8)" y="4.47" text-anchor="middle" font-size="13" fill="#6b6b6b" stroke="#6b6b6b" stroke-width="0.35">O</text>
<text transform="translate(438.5,530.9) rotate(27)" y="4.61" text-anchor="middle" font-size="13.4" fill="#6b6b6b" stroke="#6b6b6b" stroke-width="0.35">S</text>
<text transform="translate(449.4,536.4) rotate(27)" y="4.61" text-anchor="middle" font-size="13.4" fill="#6b6b6b" stroke="#6b6b6b" stroke-width="0.35">E</text>
<text transform="translate(462.2,541.9) rotate(27)" y="4.61" text-anchor="middle" font-size="13.4" fill="#6b6b6b" stroke="#6b6b6b" stroke-width="0.35">N</text>
<text transform="translate(474.9,547.3) rotate(27)" y="4.61" text-anchor="middle" font-size="13.4" fill="#6b6b6b" stroke="#6b6b6b" stroke-width="0.35">E</text>
<text transform="translate(487.7,552.2) rotate(27)" y="4.61" text-anchor="middle" font-size="13.4" fill="#6b6b6b" stroke="#6b6b6b" stroke-width="0.35">G</text>
<text transform="translate(498.6,557) rotate(27)" y="4.61" text-anchor="middle" font-size="13.4" fill="#6b6b6b" stroke="#6b6b6b" stroke-width="0.35">A</text>
<text transform="translate(508.9,561.9) rotate(27)" y="4.61" text-anchor="middle" font-size="13.4" fill="#6b6b6b" stroke="#6b6b6b" stroke-width="0.35">L</text>
<line x1="624.3" y1="47.2" x2="600.5" y2="62.6" stroke="#6b6b6b" stroke-width="1.3"/>
<path d="M596.2,65.4 L599.4,59.9 L603.6,64.9 Z" fill="#6b6b6b"/>
<clipPath id="gclip"><circle cx="630" cy="513" r="49.2"/></clipPath>
<rect x="576.5" y="461.2" width="106.4" height="104.4" fill="#fff" stroke="#000" stroke-width="2"/>
<circle cx="630.0" cy="513.0" r="49.2" fill="#a9a9a9"/>
<g clip-path="url(#gclip)" fill="#d2d2d2" stroke="#555" stroke-width="0.5" stroke-linejoin="round">
<path d="M613.9,473.8 L614.1,477.3 L615.7,479.7 L616.7,484.1 L611.2,485.2 L606.4,487.1 L602.8,489.5 L599.8,490.3 L597.2,493.8 L596.8,495.9 L592.5,498.6 L591.6,500.7 L591.6,504.1 L590.8,506.2 L590.2,504.9 L590.5,501.5 L589.8,500.2 L588.1,499.6 L587.4,500.5 L586.2,499.4 L584.5,501.2 L583.4,505.0 L583.2,509.4 L583.5,510.2 L584.6,511.0 L585.3,508.6 L586.7,508.8 L585.8,512.2 L585.4,514.2 L587.0,515.2 L587.8,516.5 L587.5,520.6 L588.5,523.1 L590.3,524.4 L591.3,525.3 L591.0,525.7 L589.7,524.7 L589.1,524.9 L586.9,522.3 L585.6,517.5 L583.1,512.6 L581.7,506.2 L582.2,503.2 L584.3,494.9 L584.9,493.4 L585.8,491.3 L587.8,487.8 L593.1,480.5 L597.9,475.7 L602.4,472.3 L605.9,470.1 L612.2,467.1 L609.7,468.2 L608.0,469.0 L609.3,469.6 L605.1,472.7 L601.9,475.2 L601.7,475.9 L603.5,477.4 L602.9,479.7 L606.1,476.7 L608.2,474.0 L609.3,472.7 L612.0,472.1 L613.5,473.8 Z"/>
<path d="M624.9,473.3 L626.5,470.2 L632.8,467.4 L631.5,465.4 L627.8,464.4 L625.1,464.6 L620.3,465.7 L620.0,466.2 L621.5,468.2 L620.9,470.0 L622.3,472.8 Z"/>
<path d="M595.3,522.3 L599.5,524.9 L604.3,525.7 L606.5,528.2 L609.9,531.3 L615.5,532.9 L618.2,536.2 L618.4,538.3 L620.8,539.4 L625.7,540.9 L630.5,541.2 L635.4,542.8 L636.6,545.4 L632.9,549.8 L632.0,553.3 L630.7,555.8 L628.8,556.3 L624.2,557.3 L624.0,558.9 L621.8,559.9 L621.1,560.3 L618.8,560.0 L619.3,560.6 L616.5,560.1 L616.6,560.3 L616.1,560.2 L616.0,560.2 L616.9,560.4 L617.9,560.7 L619.3,561.0 L618.0,560.7 L615.9,560.1 L612.5,559.0 L611.1,558.4 L608.7,557.3 L606.7,555.6 L602.8,549.8 L597.3,545.5 L591.5,537.6 L591.3,534.9 L590.6,531.6 L591.7,529.4 L591.2,526.3 L592.0,524.5 L593.0,522.7 L595.3,522.8 Z"/>
<path d="M657.7,491.3 L660.6,491.5 L662.6,489.2 L665.4,487.7 L668.0,491.2 L671.4,491.6 L671.4,489.6 L672.5,489.2 L672.8,489.3 L676.1,495.8 L677.7,501.0 L678.0,502.3 L677.6,500.6 L679.1,509.8 L679.1,516.5 L678.5,521.0 L677.8,524.8 L676.0,530.4 L674.2,534.6 L672.0,538.6 L669.3,542.6 L667.5,544.9 L667.4,544.9 L669.1,542.9 L671.4,539.5 L672.4,537.3 L674.6,532.7 L675.4,528.4 L674.8,525.3 L675.3,520.3 L674.1,520.9 L671.7,520.7 L668.9,523.7 L664.8,526.2 L662.7,525.3 L659.9,524.6 L657.2,521.4 L655.8,520.0 L654.7,517.6 L655.5,515.8 L655.2,512.2 L654.0,510.0 L654.1,506.3 L654.9,503.6 L655.6,501.0 L657.5,498.2 L656.9,495.3 L657.8,493.4 Z"/>
<path d="M657.6,491.1 L655.0,490.6 L653.7,488.6 L652.6,485.7 L652.3,484.0 L656.3,483.4 L654.9,481.2 L653.1,480.2 L651.5,479.5 L652.8,478.4 L653.2,477.0 L652.8,475.4 L653.5,474.5 L651.1,472.7 L650.1,472.1 L648.8,471.6 L646.5,470.1 L645.2,468.0 L643.3,466.4 L643.2,466.0 L644.8,466.1 L653.3,469.7 L664.3,477.7 L667.1,480.7 L667.2,481.9 L666.9,482.2 L668.2,484.4 L668.7,485.9 L666.5,483.7 L665.1,482.2 L661.7,480.5 L661.1,480.2 L664.0,482.7 L666.2,483.9 L666.7,486.0 L663.9,483.8 L660.7,481.8 L660.5,482.4 L659.1,483.3 L659.7,484.6 L659.7,487.3 L659.6,489.5 Z"/>
<path d="M650.2,478.4 L652.6,476.7 L651.1,475.7 L648.7,474.1 L646.1,472.3 L645.2,472.4 L646.3,474.1 L648.4,474.9 L648.7,475.8 L649.6,477.2 Z"/>
<path d="M646.9,477.6 L645.5,475.7 L646.0,474.6 L647.6,475.4 L648.7,476.9 Z"/>
<path d="M635.1,470.4 L638.3,469.8 L637.0,468.9 L633.6,468.9 Z"/>
<path d="M609.3,469.6 L612.4,467.9 L616.4,467.0 L617.5,467.6 L617.0,468.4 L617.3,470.2 L615.2,471.4 L612.7,470.4 L611.3,469.5 Z" fill="#a9a9a9"/>
</g>
<path d="M618.4,465.2 L621.1,464.6 L623.9,464.2 L626.6,463.9 M583.2,497.9 L584.1,495.4 L585.1,492.9 L586.3,490.4 L587.7,488.0 L589.2,485.7 L590.8,483.4 L592.6,481.2 L594.5,479.1 L596.5,477.1 L598.6,475.3 L600.9,473.5 L603.2,471.9 L605.6,470.4 L608.1,469.1 L610.7,467.9 L613.2,466.8 L615.9,465.9 L618.6,465.2 L621.2,464.6 L623.9,464.2 L626.6,463.9 M586.2,535.3 L585.1,533.1 L584.2,530.8 L583.4,528.4 L582.8,525.9 L582.3,523.3 L581.9,520.6 L581.7,517.9 L581.7,515.1 L581.8,512.2 L582.1,509.4 L582.6,506.5 L583.2,503.6 L584.0,500.7 L585.0,497.9 L586.1,495.1 L587.4,492.3 L588.8,489.7 L590.4,487.1 L592.1,484.6 L593.9,482.2 L595.8,479.9 L597.9,477.7 L600.0,475.7 L602.3,473.8 L604.6,472.1 L606.9,470.5 L609.3,469.1 L611.8,467.9 L614.3,466.8 L616.7,465.9 L619.2,465.1 L621.7,464.6 L624.2,464.2 L626.6,463.9 M599.4,551.5 L597.9,550.1 L596.4,548.6 L595.0,547.0 L593.7,545.1 L592.4,543.1 L591.3,541.0 L590.3,538.7 L589.4,536.3 L588.6,533.7 L587.9,531.0 L587.4,528.2 L587.1,525.3 L586.9,522.3 L586.8,519.2 L586.9,516.1 L587.2,512.9 L587.6,509.7 L588.2,506.5 L588.9,503.3 L589.8,500.2 L590.9,497.1 L592.1,494.0 L593.4,491.1 L594.9,488.2 L596.5,485.5 L598.1,482.9 L599.9,480.4 L601.8,478.1 L603.7,475.9 L605.7,474.0 L607.8,472.1 L609.9,470.5 L612.0,469.1 L614.1,467.8 L616.2,466.7 L618.4,465.8 L620.5,465.1 L622.5,464.5 L624.6,464.1 L626.6,463.9 M611.6,558.6 L610.3,557.9 L609.0,557.0 L607.7,556.0 L606.4,554.7 L605.2,553.3 L604.1,551.7 L603.0,549.9 L601.9,547.9 L601.0,545.7 L600.1,543.4 L599.3,540.9 L598.6,538.2 L598.0,535.3 L597.6,532.3 L597.2,529.2 L597.0,526.0 L596.9,522.6 L596.9,519.2 L597.1,515.8 L597.4,512.3 L597.8,508.8 L598.4,505.3 L599.1,501.9 L599.9,498.5 L600.8,495.2 L601.8,492.1 L602.9,489.0 L604.2,486.0 L605.5,483.3 L606.8,480.7 L608.2,478.2 L609.7,476.0 L611.2,473.9 L612.8,472.0 L614.3,470.4 L615.9,468.9 L617.5,467.6 L619.1,466.5 L620.6,465.7 L622.2,465.0 L623.7,464.4 L625.2,464.1 L626.6,463.9 M622.9,561.7 L622.1,561.4 L621.3,561.0 L620.6,560.5 L619.8,559.7 L619.0,558.7 L618.3,557.6 L617.5,556.2 L616.8,554.7 L616.1,552.9 L615.4,550.9 L614.8,548.7 L614.2,546.3 L613.7,543.7 L613.2,540.9 L612.7,537.9 L612.4,534.8 L612.1,531.5 L611.8,528.1 L611.7,524.6 L611.6,521.0 L611.6,517.4 L611.6,513.7 L611.8,510.0 L612.0,506.3 L612.3,502.7 L612.6,499.1 L613.1,495.7 L613.6,492.3 L614.1,489.1 L614.8,486.1 L615.4,483.2 L616.1,480.5 L616.9,478.0 L617.6,475.7 L618.4,473.6 L619.2,471.7 L620.1,470.1 L620.9,468.6 L621.7,467.4 L622.6,466.3 L623.4,465.5 L624.2,464.8 L625.0,464.3 L625.8,464.1 L626.6,463.9 M632.6,562.1 L632.5,561.9 L632.4,561.5 L632.3,560.9 L632.2,560.2 L632.1,559.2 L632.0,558.1 L631.8,556.7 L631.7,555.2 L631.5,553.4 L631.3,551.4 L631.1,549.1 L630.9,546.7 L630.7,544.1 L630.5,541.2 L630.3,538.2 L630.1,535.0 L629.8,531.7 L629.6,528.2 L629.3,524.6 L629.1,521.0 L628.9,517.2 L628.6,513.5 L628.4,509.7 L628.2,506.0 L628.0,502.3 L627.8,498.7 L627.6,495.2 L627.4,491.8 L627.2,488.6 L627.1,485.5 L627.0,482.7 L626.8,480.0 L626.7,477.5 L626.6,475.2 L626.6,473.1 L626.5,471.3 L626.5,469.7 L626.5,468.3 L626.4,467.1 L626.4,466.1 L626.5,465.3 L626.5,464.7 L626.5,464.2 L626.6,464.0 L626.6,463.9 M642.3,560.6 L642.9,560.3 L643.5,559.8 L644.1,559.2 L644.7,558.3 L645.2,557.3 L645.7,556.1 L646.2,554.7 L646.6,553.0 L647.0,551.2 L647.3,549.1 L647.5,546.9 L647.7,544.4 L647.9,541.8 L647.9,538.9 L647.9,535.9 L647.8,532.8 L647.7,529.4 L647.4,526.0 L647.1,522.5 L646.7,518.9 L646.3,515.3 L645.8,511.6 L645.2,507.9 L644.5,504.3 L643.8,500.7 L643.0,497.2 L642.2,493.8 L641.3,490.5 L640.4,487.4 L639.5,484.5 L638.6,481.7 L637.6,479.1 L636.7,476.7 L635.7,474.5 L634.8,472.5 L633.9,470.7 L633.0,469.2 L632.1,467.9 L631.2,466.7 L630.3,465.8 L629.5,465.1 L628.7,464.5 L628.0,464.1 L627.3,463.9 L626.6,463.9 M652.0,557.0 L653.2,556.3 L654.3,555.5 L655.4,554.5 L656.5,553.3 L657.5,551.9 L658.4,550.4 L659.3,548.6 L660.1,546.7 L660.8,544.6 L661.4,542.3 L661.9,539.9 L662.3,537.2 L662.6,534.5 L662.8,531.5 L662.8,528.5 L662.7,525.3 L662.5,522.1 L662.1,518.7 L661.6,515.3 L661.0,511.9 L660.3,508.4 L659.4,505.0 L658.4,501.6 L657.3,498.2 L656.1,494.9 L654.8,491.8 L653.4,488.7 L651.9,485.8 L650.4,483.0 L648.8,480.4 L647.2,478.0 L645.5,475.7 L643.8,473.7 L642.2,471.8 L640.5,470.1 L638.8,468.7 L637.1,467.4 L635.5,466.4 L633.9,465.5 L632.4,464.9 L630.8,464.4 L629.4,464.0 L628.0,463.9 L626.6,463.9 M663.3,549.2 L664.6,547.9 L665.9,546.3 L667.2,544.7 L668.3,542.8 L669.3,540.8 L670.3,538.7 L671.1,536.4 L671.8,534.0 L672.3,531.4 L672.7,528.8 L673.0,526.0 L673.1,523.1 L673.0,520.1 L672.8,517.1 L672.5,514.0 L671.9,510.9 L671.2,507.7 L670.4,504.6 L669.4,501.4 L668.2,498.3 L666.9,495.3 L665.4,492.3 L663.9,489.4 L662.2,486.6 L660.4,483.9 L658.5,481.4 L656.5,479.0 L654.4,476.8 L652.3,474.7 L650.1,472.8 L647.9,471.1 L645.7,469.6 L643.5,468.2 L641.3,467.1 L639.1,466.1 L636.9,465.3 L634.7,464.7 L632.6,464.2 L630.6,464.0 L628.6,463.9 L626.6,463.9 M675.2,532.3 L676.1,530.1 L676.8,527.7 L677.4,525.3 L677.9,522.8 L678.2,520.2 L678.3,517.5 L678.3,514.7 L678.1,512.0 L677.7,509.2 L677.2,506.3 L676.5,503.5 L675.7,500.6 L674.6,497.8 L673.4,495.0 L672.1,492.3 L670.6,489.6 L668.9,487.0 L667.2,484.5 L665.2,482.1 L663.2,479.8 L661.1,477.7 L658.8,475.7 L656.5,473.8 L654.1,472.0 L651.7,470.5 L649.2,469.1 L646.7,467.8 L644.1,466.7 L641.5,465.8 L639.0,465.1 L636.4,464.5 L633.9,464.1 L631.4,463.9 L629.0,463.8 L626.6,463.9 M677.3,499.6 L676.5,497.1 L675.6,494.6 L674.5,492.1 L673.2,489.6 L671.8,487.2 L670.3,484.9 L668.6,482.7 L666.7,480.5 L664.8,478.5 L662.7,476.5 L660.5,474.7 L658.2,473.0 L655.8,471.4 L653.3,470.0 L650.8,468.6 L648.2,467.5 L645.5,466.5 L642.9,465.7 L640.1,465.0 L637.4,464.4 L634.7,464.1 L632.0,463.9 L629.3,463.8 L626.6,463.9 M640.3,464.9 L637.6,464.4 L634.9,464.0 L632.1,463.8 L629.4,463.8 L626.6,463.9 M619.8,561.1 L621.6,561.5 L623.5,561.8 L625.4,562.0 L627.3,562.1 L629.3,562.2 L631.3,562.1 L633.3,562.0 L635.2,561.9 L637.2,561.6 L639.1,561.3 L641.0,560.9 L642.9,560.5 L644.7,559.9 L646.5,559.4 M598.5,550.8 L599.8,551.8 L601.3,552.8 L602.8,553.8 L604.5,554.6 L606.4,555.5 L608.4,556.2 L610.4,556.9 L612.7,557.5 L615.0,558.0 L617.4,558.5 L619.8,558.8 L622.4,559.1 L625.0,559.3 L627.7,559.4 L630.3,559.3 L633.0,559.2 L635.7,559.0 L638.3,558.6 L641.0,558.2 L643.5,557.7 L646.0,557.1 L648.5,556.4 L650.8,555.7 L653.0,554.8 L655.1,553.9 L657.1,553.0 L659.0,551.9 L660.7,550.9 L662.3,549.8 L663.8,548.6 L665.1,547.5 L666.2,546.3 M588.3,539.0 L589.2,540.2 L590.2,541.3 L591.5,542.4 L592.9,543.5 L594.5,544.5 L596.3,545.5 L598.3,546.5 L600.4,547.4 L602.7,548.2 L605.2,548.9 L607.8,549.6 L610.6,550.1 L613.4,550.6 L616.4,551.0 L619.5,551.3 L622.7,551.5 L625.9,551.5 L629.2,551.5 L632.4,551.3 L635.7,551.0 L638.9,550.6 L642.1,550.2 L645.2,549.6 L648.3,548.9 L651.2,548.1 L654.0,547.2 L656.7,546.3 L659.2,545.3 L661.6,544.2 L663.7,543.1 L665.8,541.9 L667.6,540.7 L669.3,539.5 L670.7,538.3 L672.0,537.0 L673.1,535.7 L674.1,534.5 L674.8,533.2 L675.4,531.9 M582.1,524.1 L582.4,525.2 L583.0,526.2 L583.7,527.3 L584.6,528.3 L585.7,529.3 L587.0,530.3 L588.5,531.3 L590.1,532.3 L592.0,533.2 L594.1,534.0 L596.4,534.8 L598.9,535.5 L601.6,536.2 L604.4,536.8 L607.4,537.3 L610.6,537.7 L613.8,538.0 L617.2,538.3 L620.7,538.4 L624.3,538.4 L627.9,538.3 L631.5,538.1 L635.1,537.8 L638.7,537.4 L642.2,536.9 L645.7,536.4 L649.0,535.7 L652.2,534.9 L655.3,534.1 L658.3,533.2 L661.0,532.2 L663.6,531.2 L666.0,530.1 L668.2,529.0 L670.1,527.9 L671.9,526.8 L673.5,525.6 L674.8,524.4 L676.0,523.2 L677.0,522.1 L677.7,520.9 L678.3,519.8 L678.7,518.7 L679.0,517.6 M580.9,509.3 L581.0,510.1 L581.2,510.9 L581.5,511.7 L582.0,512.5 L582.7,513.3 L583.6,514.1 L584.7,514.9 L585.9,515.6 L587.4,516.3 L589.1,517.0 L591.0,517.7 L593.0,518.3 L595.3,518.9 L597.8,519.4 L600.4,519.9 L603.3,520.3 L606.3,520.6 L609.4,520.9 L612.7,521.1 L616.1,521.2 L619.5,521.2 L623.1,521.2 L626.7,521.1 L630.3,520.9 L633.9,520.6 L637.5,520.2 L641.0,519.8 L644.5,519.3 L647.8,518.7 L651.1,518.1 L654.2,517.4 L657.1,516.6 L659.9,515.9 L662.5,515.0 L664.9,514.2 L667.1,513.3 L669.1,512.4 L670.9,511.5 L672.4,510.6 L673.8,509.6 L675.0,508.7 L676.0,507.8 L676.8,506.9 L677.4,506.0 L677.8,505.2 L678.1,504.3 L678.2,503.5 L678.1,502.7 M584.0,495.6 L584.0,496.1 L584.0,496.6 L584.3,497.1 L584.6,497.6 L585.2,498.1 L585.9,498.5 L586.7,499.0 L587.7,499.5 L588.9,499.9 L590.3,500.3 L591.9,500.7 L593.6,501.1 L595.5,501.4 L597.6,501.7 L599.8,502.0 L602.2,502.2 L604.8,502.4 L607.5,502.6 L610.3,502.7 L613.3,502.7 L616.3,502.7 L619.4,502.7 L622.6,502.6 L625.8,502.4 L629.0,502.2 L632.3,502.0 L635.5,501.7 L638.6,501.4 L641.7,501.0 L644.8,500.6 L647.7,500.1 L650.5,499.6 L653.2,499.1 L655.7,498.6 L658.1,498.0 L660.3,497.5 L662.3,496.9 L664.2,496.3 L665.9,495.7 L667.4,495.1 L668.7,494.5 L669.9,493.9 L670.8,493.3 L671.6,492.7 L672.3,492.1 L672.8,491.6 L673.1,491.0 L673.2,490.5 L673.3,490.0 L673.2,489.5 M591.0,483.0 L590.9,483.2 L590.8,483.5 L590.9,483.7 L591.0,484.0 L591.3,484.2 L591.7,484.4 L592.2,484.6 L592.9,484.8 L593.7,485.0 L594.6,485.2 L595.7,485.4 L596.9,485.5 L598.2,485.7 L599.6,485.8 L601.2,485.9 L603.0,486.0 L604.8,486.1 L606.7,486.1 L608.8,486.1 L611.0,486.1 L613.2,486.1 L615.5,486.1 L617.9,486.0 L620.4,485.9 L622.9,485.8 L625.4,485.6 L627.9,485.5 L630.5,485.3 L633.0,485.1 L635.5,484.9 L637.9,484.6 L640.3,484.4 L642.6,484.1 L644.9,483.8 L647.0,483.5 L649.1,483.2 L651.0,482.9 L652.8,482.6 L654.6,482.3 L656.1,481.9 L657.6,481.6 L658.9,481.3 L660.1,481.0 L661.1,480.7 L662.0,480.3 L662.8,480.0 L663.4,479.7 L663.9,479.5 L664.3,479.2 L664.6,478.9 L664.7,478.6 L664.8,478.4 L664.7,478.2 L664.5,477.9 M600.9,473.3 L600.9,473.4 L600.8,473.5 L600.9,473.5 L601.0,473.6 L601.3,473.7 L601.6,473.7 L602.0,473.8 L602.4,473.8 L603.0,473.9 L603.6,473.9 L604.3,473.9 L605.1,474.0 L606.0,474.0 L607.0,474.0 L608.1,474.0 L609.2,473.9 L610.4,473.9 L611.7,473.9 L613.0,473.8 L614.4,473.8 L615.9,473.7 L617.4,473.7 L618.9,473.6 L620.5,473.5 L622.2,473.4 L623.8,473.3 L625.5,473.2 L627.1,473.1 L628.8,473.0 L630.5,472.9 L632.1,472.7 L633.7,472.6 L635.3,472.5 L636.9,472.3 L638.4,472.2 L639.9,472.0 L641.3,471.9 L642.6,471.8 L643.9,471.6 L645.1,471.5 L646.2,471.3 L647.3,471.2 L648.2,471.1 L649.1,470.9 L649.9,470.8 L650.7,470.7 L651.3,470.5 L651.9,470.4 L652.3,470.3 L652.7,470.2 L653.0,470.1 L653.2,470.0 L653.4,469.9 L653.4,469.8 L653.4,469.8 L653.3,469.7 M613.1,466.8 L613.1,466.8 L613.1,466.8 L613.2,466.8 L613.3,466.8 L613.4,466.8 L613.6,466.8 L613.8,466.8 L614.1,466.8 L614.4,466.8 L614.7,466.8 L615.1,466.8 L615.5,466.7 L615.9,466.7 L616.4,466.7 L616.9,466.7 L617.5,466.6 L618.0,466.6 L618.6,466.6 L619.3,466.5 L619.9,466.5 L620.6,466.5 L621.3,466.4 L622.1,466.4 L622.8,466.3 L623.6,466.3 L624.3,466.2 L625.1,466.2 L625.9,466.1 L626.7,466.1 L627.5,466.0 L628.3,465.9 L629.1,465.9 L629.8,465.8 L630.6,465.8 L631.3,465.7 L632.1,465.7 L632.8,465.6 L633.5,465.6 L634.1,465.5 L634.8,465.5 L635.4,465.4 L636.0,465.4 L636.5,465.3 L637.0,465.3 L637.5,465.2 L638.0,465.2 L638.4,465.2 L638.8,465.1 L639.1,465.1 L639.4,465.1 L639.7,465.0 L639.9,465.0 L640.0,465.0 L640.2,465.0 L640.3,464.9 L640.4,464.9 L640.4,464.9 L640.4,464.9" fill="none" stroke="#6d6d6d" stroke-width="0.6" clip-path="url(#gclip)"/>
<circle cx="630.0" cy="513.0" r="49.2" fill="none" stroke="#777" stroke-width="0.8"/>
<path d="M631.7,495.3 L659.5,490.1 L666.3,521 L638.6,526.1 Z" fill="none" stroke="#000" stroke-width="1.9"/>
<path d="M323.40,69.10 L323.40,22.80 A46.3,46.3 0 0 1 355.09,35.35 Z" fill="#3b3738"/>
<path d="M323.40,69.10 L355.09,35.35 A46.3,46.3 0 0 1 347.52,108.62 Z" fill="#e6e6e6"/>
<path d="M323.40,69.10 L347.52,108.62 A46.3,46.3 0 1 1 301.02,28.57 Z" fill="#8b8b8b"/>
<path d="M323.40,69.10 L301.02,28.57 A46.3,46.3 0 0 1 323.40,22.80 Z" fill="url(#hatch)"/>
<line x1="323.40" y1="69.10" x2="323.40" y2="22.80" stroke="#3e6fa6" stroke-width="1.7" stroke-linecap="round"/>
<line x1="323.40" y1="69.10" x2="355.09" y2="35.35" stroke="#3e6fa6" stroke-width="1.7" stroke-linecap="round"/>
<line x1="323.40" y1="69.10" x2="347.52" y2="108.62" stroke="#3e6fa6" stroke-width="1.7" stroke-linecap="round"/>
<line x1="323.40" y1="69.10" x2="301.02" y2="28.57" stroke="#3e6fa6" stroke-width="1.7" stroke-linecap="round"/>
<circle cx="323.4" cy="69.1" r="46.3" fill="none" stroke="#3e6fa6" stroke-width="1.7"/>
<path d="M490.55,152.00 L490.55,123.30 A28.7,28.7 0 0 1 507.54,128.87 Z" fill="#3b3738"/>
<path d="M490.55,152.00 L507.54,128.87 A28.7,28.7 0 0 1 516.75,163.72 Z" fill="#e6e6e6"/>
<path d="M490.55,152.00 L516.75,163.72 A28.7,28.7 0 0 1 464.13,140.79 Z" fill="#8b8b8b"/>
<path d="M490.55,152.00 L464.13,140.79 A28.7,28.7 0 0 1 490.55,123.30 Z" fill="url(#hatch)"/>
<line x1="490.55" y1="152.00" x2="490.55" y2="123.30" stroke="#5fb6ab" stroke-width="1.7" stroke-linecap="round"/>
<line x1="490.55" y1="152.00" x2="507.54" y2="128.87" stroke="#5fb6ab" stroke-width="1.7" stroke-linecap="round"/>
<line x1="490.55" y1="152.00" x2="516.75" y2="163.72" stroke="#5fb6ab" stroke-width="1.7" stroke-linecap="round"/>
<line x1="490.55" y1="152.00" x2="464.13" y2="140.79" stroke="#5fb6ab" stroke-width="1.7" stroke-linecap="round"/>
<circle cx="490.55" cy="152" r="28.7" fill="none" stroke="#5fb6ab" stroke-width="1.7"/>
<path d="M344.75,285.65 L344.75,242.75 A42.9,42.9 0 0 1 364.56,247.60 Z" fill="#3b3738"/>
<path d="M344.75,285.65 L364.56,247.60 A42.9,42.9 0 0 1 387.58,288.04 Z" fill="#e6e6e6"/>
<path d="M344.75,285.65 L387.58,288.04 A42.9,42.9 0 1 1 305.09,269.30 Z" fill="#8b8b8b"/>
<path d="M344.75,285.65 L305.09,269.30 A42.9,42.9 0 0 1 344.75,242.75 Z" fill="url(#hatch)"/>
<line x1="344.75" y1="285.65" x2="344.75" y2="242.75" stroke="#e04550" stroke-width="1.7" stroke-linecap="round"/>
<line x1="344.75" y1="285.65" x2="364.56" y2="247.60" stroke="#e04550" stroke-width="1.7" stroke-linecap="round"/>
<line x1="344.75" y1="285.65" x2="387.58" y2="288.04" stroke="#e04550" stroke-width="1.7" stroke-linecap="round"/>
<line x1="344.75" y1="285.65" x2="305.09" y2="269.30" stroke="#e04550" stroke-width="1.7" stroke-linecap="round"/>
<circle cx="344.75" cy="285.65" r="42.9" fill="none" stroke="#e04550" stroke-width="1.7"/>
<path d="M249.80,427.90 L249.80,398.00 A29.9,29.9 0 0 1 272.54,408.48 Z" fill="#3b3738"/>
<path d="M249.80,427.90 L272.54,408.48 A29.9,29.9 0 0 1 279.70,427.38 Z" fill="#e6e6e6"/>
<path d="M249.80,427.90 L279.70,427.38 A29.9,29.9 0 0 1 236.41,454.64 Z" fill="#8b8b8b"/>
<path d="M249.80,427.90 L236.41,454.64 A29.9,29.9 0 0 1 249.80,398.00 Z" fill="url(#hatch)"/>
<line x1="249.80" y1="427.90" x2="249.80" y2="398.00" stroke="#f0901f" stroke-width="1.7" stroke-linecap="round"/>
<line x1="249.80" y1="427.90" x2="272.54" y2="408.48" stroke="#f0901f" stroke-width="1.7" stroke-linecap="round"/>
<line x1="249.80" y1="427.90" x2="279.70" y2="427.38" stroke="#f0901f" stroke-width="1.7" stroke-linecap="round"/>
<line x1="249.80" y1="427.90" x2="236.41" y2="454.64" stroke="#f0901f" stroke-width="1.7" stroke-linecap="round"/>
<circle cx="249.8" cy="427.9" r="29.9" fill="none" stroke="#f0901f" stroke-width="1.7"/>
<text x="236.1" y="65.7" font-size="19.5" text-anchor="middle" font-weight="bold">Azores</text>
<text x="236.1" y="89.2" font-size="19" text-anchor="middle">[167]</text>
<text x="493.6" y="205.8" font-size="19.5" text-anchor="middle" font-weight="bold">Madeira</text>
<text x="493.6" y="230.0" font-size="19" text-anchor="middle">[70]</text>
<text x="345.2" y="353.8" font-size="19.5" text-anchor="middle" font-weight="bold">Canary Islands</text>
<text x="345.0" y="377.6" font-size="19" text-anchor="middle">[152]</text>
<text x="249.2" y="481.2" font-size="19.5" text-anchor="middle" font-weight="bold">Cabo Verde</text>
<text x="249.3" y="504.0" font-size="19" text-anchor="middle">[87]</text>
<rect x="66.3" y="191.8" width="19.6" height="18.4" fill="#8b8b8b" stroke="#111" stroke-width="2"/>
<text x="96.6" y="207.3" font-size="19.5">Marine Mammals</text>
<rect x="66.3" y="220.1" width="19.6" height="18.5" fill="#e6e6e6" stroke="#111" stroke-width="2"/>
<text x="96.6" y="235.7" font-size="19.5">Chondrichthyes</text>
<rect x="66.3" y="250.7" width="19.6" height="18.7" fill="#3b3738" stroke="#111" stroke-width="2"/>
<text x="96.6" y="266.5" font-size="19.5">Osteichthyes</text>
<rect x="66.3" y="281.0" width="19.6" height="19.0" fill="url(#hatchL)" stroke="#111" stroke-width="2"/>
<text x="96.6" y="297.1" font-size="19.5">Marine Turtles</text>
<text x="76.8" y="498.9" font-size="10" text-anchor="middle">N</text>
<path d="M76.9,503 L68.6,529.3 L76.9,520 Z" fill="#000" stroke="#000" stroke-width="0.8" stroke-linejoin="round"/>
<path d="M76.9,503 L85,529.3 L76.9,520 Z" fill="#fff" stroke="#000" stroke-width="0.8" stroke-linejoin="round"/>
<text x="149.8" y="533.6" font-size="11.8" text-anchor="end">km</text>
<rect x="69.4" y="541.6" width="80.2" height="5.6" fill="#fff" stroke="#000" stroke-width="1"/>
<rect x="69.4" y="541.6" width="39.9" height="5.6" fill="#000"/>
<text x="66.6" y="562.6" font-size="11.8">0</text>
<text x="150.7" y="562.6" font-size="12.3" text-anchor="end">500</text>
<rect x="42.3" y="7" width="648.2" height="566.9" fill="none" stroke="#222" stroke-width="1.3"/>
<path d="M89.60,7 v-4.5 M89.60,573.9 v4 M161.03,7 v-4.5 M161.03,573.9 v4 M232.46,7 v-4.5 M232.46,573.9 v4 M303.89,7 v-4.5 M303.89,573.9 v4 M375.32,7 v-4.5 M375.32,573.9 v4 M446.75,7 v-4.5 M446.75,573.9 v4 M518.18,7 v-4.5 M518.18,573.9 v4 M589.61,7 v-4.5 M589.61,573.9 v4 M661.04,7 v-4.5 M661.04,573.9 v4 M42.3,50.60 h-5 M690.5,50.60 h5 M42.3,122.03 h-5 M690.5,122.03 h5 M42.3,193.46 h-5 M690.5,193.46 h5 M42.3,264.89 h-5 M690.5,264.89 h5 M42.3,336.32 h-5 M690.5,336.32 h5 M42.3,407.75 h-5 M690.5,407.75 h5 M42.3,479.18 h-5 M690.5,479.18 h5 M42.3,550.61 h-5 M690.5,550.61 h5" stroke="#444" stroke-width="1" fill="none"/>
<path d="M53.88,7 v-2.2 M53.88,573.9 v2.2 M65.79,7 v-2.2 M65.79,573.9 v2.2 M77.69,7 v-2.2 M77.69,573.9 v2.2 M101.50,7 v-2.2 M101.50,573.9 v2.2 M113.41,7 v-2.2 M113.41,573.9 v2.2 M125.31,7 v-2.2 M125.31,573.9 v2.2 M137.22,7 v-2.2 M137.22,573.9 v2.2 M149.12,7 v-2.2 M149.12,573.9 v2.2 M172.94,7 v-2.2 M172.94,573.9 v2.2 M184.84,7 v-2.2 M184.84,573.9 v2.2 M196.75,7 v-2.2 M196.75,573.9 v2.2 M208.65,7 v-2.2 M208.65,573.9 v2.2 M220.56,7 v-2.2 M220.56,573.9 v2.2 M244.37,7 v-2.2 M244.37,573.9 v2.2 M256.27,7 v-2.2 M256.27,573.9 v2.2 M268.18,7 v-2.2 M268.18,573.9 v2.2 M280.08,7 v-2.2 M280.08,573.9 v2.2 M291.99,7 v-2.2 M291.99,573.9 v2.2 M315.80,7 v-2.2 M315.80,573.9 v2.2 M327.70,7 v-2.2 M327.70,573.9 v2.2 M339.61,7 v-2.2 M339.61,573.9 v2.2 M351.51,7 v-2.2 M351.51,573.9 v2.2 M363.41,7 v-2.2 M363.41,573.9 v2.2 M387.23,7 v-2.2 M387.23,573.9 v2.2 M399.13,7 v-2.2 M399.13,573.9 v2.2 M411.03,7 v-2.2 M411.03,573.9 v2.2 M422.94,7 v-2.2 M422.94,573.9 v2.2 M434.85,7 v-2.2 M434.85,573.9 v2.2 M458.66,7 v-2.2 M458.66,573.9 v2.2 M470.56,7 v-2.2 M470.56,573.9 v2.2 M482.47,7 v-2.2 M482.47,573.9 v2.2 M494.37,7 v-2.2 M494.37,573.9 v2.2 M506.27,7 v-2.2 M506.27,573.9 v2.2 M530.09,7 v-2.2 M530.09,573.9 v2.2 M541.99,7 v-2.2 M541.99,573.9 v2.2 M553.90,7 v-2.2 M553.90,573.9 v2.2 M565.80,7 v-2.2 M565.80,573.9 v2.2 M577.71,7 v-2.2 M577.71,573.9 v2.2 M601.51,7 v-2.2 M601.51,573.9 v2.2 M613.42,7 v-2.2 M613.42,573.9 v2.2 M625.33,7 v-2.2 M625.33,573.9 v2.2 M637.23,7 v-2.2 M637.23,573.9 v2.2 M649.14,7 v-2.2 M649.14,573.9 v2.2 M672.95,7 v-2.2 M672.95,573.9 v2.2 M684.85,7 v-2.2 M684.85,573.9 v2.2 M42.3,14.88 h-2.2 M690.5,14.88 h2.2 M42.3,26.79 h-2.2 M690.5,26.79 h2.2 M42.3,38.70 h-2.2 M690.5,38.70 h2.2 M42.3,62.51 h-2.2 M690.5,62.51 h2.2 M42.3,74.41 h-2.2 M690.5,74.41 h2.2 M42.3,86.31 h-2.2 M690.5,86.31 h2.2 M42.3,98.22 h-2.2 M690.5,98.22 h2.2 M42.3,110.12 h-2.2 M690.5,110.12 h2.2 M42.3,133.94 h-2.2 M690.5,133.94 h2.2 M42.3,145.84 h-2.2 M690.5,145.84 h2.2 M42.3,157.75 h-2.2 M690.5,157.75 h2.2 M42.3,169.65 h-2.2 M690.5,169.65 h2.2 M42.3,181.56 h-2.2 M690.5,181.56 h2.2 M42.3,205.37 h-2.2 M690.5,205.37 h2.2 M42.3,217.27 h-2.2 M690.5,217.27 h2.2 M42.3,229.18 h-2.2 M690.5,229.18 h2.2 M42.3,241.08 h-2.2 M690.5,241.08 h2.2 M42.3,252.99 h-2.2 M690.5,252.99 h2.2 M42.3,276.80 h-2.2 M690.5,276.80 h2.2 M42.3,288.70 h-2.2 M690.5,288.70 h2.2 M42.3,300.61 h-2.2 M690.5,300.61 h2.2 M42.3,312.51 h-2.2 M690.5,312.51 h2.2 M42.3,324.42 h-2.2 M690.5,324.42 h2.2 M42.3,348.23 h-2.2 M690.5,348.23 h2.2 M42.3,360.13 h-2.2 M690.5,360.13 h2.2 M42.3,372.04 h-2.2 M690.5,372.04 h2.2 M42.3,383.94 h-2.2 M690.5,383.94 h2.2 M42.3,395.85 h-2.2 M690.5,395.85 h2.2 M42.3,419.66 h-2.2 M690.5,419.66 h2.2 M42.3,431.56 h-2.2 M690.5,431.56 h2.2 M42.3,443.47 h-2.2 M690.5,443.47 h2.2 M42.3,455.37 h-2.2 M690.5,455.37 h2.2 M42.3,467.28 h-2.2 M690.5,467.28 h2.2 M42.3,491.09 h-2.2 M690.5,491.09 h2.2 M42.3,502.99 h-2.2 M690.5,502.99 h2.2 M42.3,514.90 h-2.2 M690.5,514.90 h2.2 M42.3,526.80 h-2.2 M690.5,526.80 h2.2 M42.3,538.71 h-2.2 M690.5,538.71 h2.2 M42.3,562.51 h-2.2 M690.5,562.51 h2.2" stroke="#999" stroke-width="0.8" fill="none"/>
<text x="0.56" y="53.3" font-size="16">42</text><circle cx="21.15" cy="47.3" r="1.75" fill="none" stroke="#000" stroke-width="1.2"/><text x="23.74" y="53.3" font-size="16">N</text>
<text x="0.45" y="126.7" font-size="16">38</text><circle cx="21.15" cy="120.7" r="1.75" fill="none" stroke="#000" stroke-width="1.2"/><text x="23.74" y="126.7" font-size="16">N</text>
<text x="0.22" y="198.8" font-size="16">34</text><circle cx="21.15" cy="192.8" r="1.75" fill="none" stroke="#000" stroke-width="1.2"/><text x="23.74" y="198.8" font-size="16">N</text>
<text x="0.38" y="272.0" font-size="16">30</text><circle cx="21.15" cy="266.0" r="1.75" fill="none" stroke="#000" stroke-width="1.2"/><text x="23.74" y="272.0" font-size="16">N</text>
<text x="0.46" y="341.5" font-size="16">26</text><circle cx="21.15" cy="335.5" r="1.75" fill="none" stroke="#000" stroke-width="1.2"/><text x="23.74" y="341.5" font-size="16">N</text>
<text x="0.56" y="414.7" font-size="16">22</text><circle cx="21.15" cy="408.7" r="1.75" fill="none" stroke="#000" stroke-width="1.2"/><text x="23.74" y="414.7" font-size="16">N</text>
<text x="0.45" y="488.2" font-size="16">18</text><circle cx="21.15" cy="482.2" r="1.75" fill="none" stroke="#000" stroke-width="1.2"/><text x="23.74" y="488.2" font-size="16">N</text>
<text x="0.22" y="558.8" font-size="16">14</text><circle cx="21.15" cy="552.8" r="1.75" fill="none" stroke="#000" stroke-width="1.2"/><text x="23.74" y="558.8" font-size="16">N</text>
<text x="69.34" y="595.1" font-size="15.5">36</text><circle cx="89.80" cy="588.9" r="1.75" fill="none" stroke="#000" stroke-width="1.2"/><text x="93.53" y="595.1" font-size="15.5">W</text>
<text x="140.87" y="595.1" font-size="15.5">32</text><circle cx="161.23" cy="588.9" r="1.75" fill="none" stroke="#000" stroke-width="1.2"/><text x="164.96" y="595.1" font-size="15.5">W</text>
<text x="212.19" y="595.1" font-size="15.5">28</text><circle cx="232.66" cy="588.9" r="1.75" fill="none" stroke="#000" stroke-width="1.2"/><text x="236.39" y="595.1" font-size="15.5">W</text>
<text x="283.40" y="595.1" font-size="15.5">24</text><circle cx="304.09" cy="588.9" r="1.75" fill="none" stroke="#000" stroke-width="1.2"/><text x="307.82" y="595.1" font-size="15.5">W</text>
<text x="354.98" y="595.1" font-size="15.5">20</text><circle cx="375.52" cy="588.9" r="1.75" fill="none" stroke="#000" stroke-width="1.2"/><text x="379.25" y="595.1" font-size="15.5">W</text>
<text x="426.49" y="595.1" font-size="15.5">16</text><circle cx="446.95" cy="588.9" r="1.75" fill="none" stroke="#000" stroke-width="1.2"/><text x="450.68" y="595.1" font-size="15.5">W</text>
<text x="498.02" y="595.1" font-size="15.5">12</text><circle cx="518.38" cy="588.9" r="1.75" fill="none" stroke="#000" stroke-width="1.2"/><text x="522.11" y="595.1" font-size="15.5">W</text>
<text x="577.96" y="595.1" font-size="15.5">8</text><circle cx="589.81" cy="588.9" r="1.75" fill="none" stroke="#000" stroke-width="1.2"/><text x="593.54" y="595.1" font-size="15.5">W</text>
<text x="649.17" y="595.1" font-size="15.5">4</text><circle cx="661.24" cy="588.9" r="1.75" fill="none" stroke="#000" stroke-width="1.2"/><text x="664.97" y="595.1" font-size="15.5">W</text>
<text x="4.6" y="17.2" font-size="17.8" font-weight="bold">A</text>
<text x="4.1" y="642.9" font-size="17.5" font-weight="bold">B</text>
<line x1="89.5" y1="677.2" x2="89.5" y2="936.6" stroke="#222" stroke-width="1.2"/>
<line x1="620.5" y1="677.2" x2="620.5" y2="936.6" stroke="#222" stroke-width="1.2"/>
<line x1="88.9" y1="936.6" x2="621.1" y2="936.6" stroke="#222" stroke-width="1.2"/>
<line x1="83.8" y1="936.60" x2="89.5" y2="936.60" stroke="#222" stroke-width="1.2"/>
<text x="73.2" y="942.60" font-size="20" text-anchor="end">0</text>
<line x1="83.8" y1="904.16" x2="89.5" y2="904.16" stroke="#222" stroke-width="1.2"/>
<text x="73.2" y="910.16" font-size="20" text-anchor="end">25</text>
<line x1="83.8" y1="871.73" x2="89.5" y2="871.73" stroke="#222" stroke-width="1.2"/>
<text x="73.2" y="877.73" font-size="20" text-anchor="end">50</text>
<line x1="83.8" y1="839.29" x2="89.5" y2="839.29" stroke="#222" stroke-width="1.2"/>
<text x="73.2" y="845.29" font-size="20" text-anchor="end">75</text>
<line x1="83.8" y1="806.85" x2="89.5" y2="806.85" stroke="#222" stroke-width="1.2"/>
<text x="73.2" y="812.85" font-size="20" text-anchor="end">100</text>
<line x1="83.8" y1="774.41" x2="89.5" y2="774.41" stroke="#222" stroke-width="1.2"/>
<text x="73.2" y="780.41" font-size="20" text-anchor="end">125</text>
<line x1="83.8" y1="741.98" x2="89.5" y2="741.98" stroke="#222" stroke-width="1.2"/>
<text x="73.2" y="747.98" font-size="20" text-anchor="end">150</text>
<line x1="83.8" y1="709.54" x2="89.5" y2="709.54" stroke="#222" stroke-width="1.2"/>
<text x="73.2" y="715.54" font-size="20" text-anchor="end">175</text>
<line x1="83.8" y1="677.10" x2="89.5" y2="677.10" stroke="#222" stroke-width="1.2"/>
<text x="73.2" y="683.10" font-size="20" text-anchor="end">200</text>
<line x1="620.5" y1="936.60" x2="626.4" y2="936.60" stroke="#222" stroke-width="1.2"/>
<text x="636" y="942.60" font-size="20">0</text>
<line x1="620.5" y1="871.75" x2="626.4" y2="871.75" stroke="#222" stroke-width="1.2"/>
<text x="636" y="877.75" font-size="20">100</text>
<line x1="620.5" y1="806.90" x2="626.4" y2="806.90" stroke="#222" stroke-width="1.2"/>
<text x="636" y="812.90" font-size="20">200</text>
<line x1="620.5" y1="742.05" x2="626.4" y2="742.05" stroke="#222" stroke-width="1.2"/>
<text x="636" y="748.05" font-size="20">300</text>
<line x1="620.5" y1="677.20" x2="626.4" y2="677.20" stroke="#222" stroke-width="1.2"/>
<text x="636" y="683.20" font-size="20">400</text>
<line x1="89.50" y1="936.6" x2="89.50" y2="941.6" stroke="#222" stroke-width="1.2"/>
<line x1="148.50" y1="936.6" x2="148.50" y2="941.6" stroke="#222" stroke-width="1.2"/>
<line x1="207.50" y1="936.6" x2="207.50" y2="941.6" stroke="#222" stroke-width="1.2"/>
<line x1="266.50" y1="936.6" x2="266.50" y2="941.6" stroke="#222" stroke-width="1.2"/>
<line x1="325.50" y1="936.6" x2="325.50" y2="941.6" stroke="#222" stroke-width="1.2"/>
<line x1="384.50" y1="936.6" x2="384.50" y2="941.6" stroke="#222" stroke-width="1.2"/>
<line x1="443.50" y1="936.6" x2="443.50" y2="941.6" stroke="#222" stroke-width="1.2"/>
<line x1="502.50" y1="936.6" x2="502.50" y2="941.6" stroke="#222" stroke-width="1.2"/>
<line x1="561.50" y1="936.6" x2="561.50" y2="941.6" stroke="#222" stroke-width="1.2"/>
<line x1="620.50" y1="936.6" x2="620.50" y2="941.6" stroke="#222" stroke-width="1.2"/>
<rect x="107.20" y="935.82" width="23.6" height="0.78" fill="#e0535a" stroke="#1a1a1a" stroke-width="1"/>
<rect x="107.20" y="935.04" width="23.6" height="0.78" fill="#76bcb3" stroke="#1a1a1a" stroke-width="1"/>
<rect x="107.20" y="932.58" width="23.6" height="2.47" fill="#4a73a8" stroke="#1a1a1a" stroke-width="1"/>
<rect x="166.20" y="934.00" width="23.6" height="2.60" fill="#f28e2b" stroke="#1a1a1a" stroke-width="1"/>
<rect x="166.20" y="930.11" width="23.6" height="3.89" fill="#4a73a8" stroke="#1a1a1a" stroke-width="1"/>
<rect x="225.20" y="933.10" width="23.6" height="3.50" fill="#4a73a8" stroke="#1a1a1a" stroke-width="1"/>
<rect x="284.20" y="930.63" width="23.6" height="5.97" fill="#f28e2b" stroke="#1a1a1a" stroke-width="1"/>
<rect x="284.20" y="922.98" width="23.6" height="7.66" fill="#e0535a" stroke="#1a1a1a" stroke-width="1"/>
<rect x="284.20" y="914.02" width="23.6" height="8.95" fill="#76bcb3" stroke="#1a1a1a" stroke-width="1"/>
<rect x="284.20" y="903.77" width="23.6" height="10.25" fill="#4a73a8" stroke="#1a1a1a" stroke-width="1"/>
<rect x="343.20" y="934.13" width="23.6" height="2.47" fill="#f28e2b" stroke="#1a1a1a" stroke-width="1"/>
<rect x="343.20" y="930.50" width="23.6" height="3.63" fill="#e0535a" stroke="#1a1a1a" stroke-width="1"/>
<rect x="343.20" y="924.14" width="23.6" height="6.36" fill="#76bcb3" stroke="#1a1a1a" stroke-width="1"/>
<rect x="343.20" y="920.25" width="23.6" height="3.89" fill="#4a73a8" stroke="#1a1a1a" stroke-width="1"/>
<rect x="402.20" y="934.26" width="23.6" height="2.34" fill="#f28e2b" stroke="#1a1a1a" stroke-width="1"/>
<rect x="402.20" y="915.97" width="23.6" height="18.29" fill="#e0535a" stroke="#1a1a1a" stroke-width="1"/>
<rect x="402.20" y="913.37" width="23.6" height="2.60" fill="#76bcb3" stroke="#1a1a1a" stroke-width="1"/>
<rect x="402.20" y="903.38" width="23.6" height="9.99" fill="#4a73a8" stroke="#1a1a1a" stroke-width="1"/>
<rect x="461.20" y="923.75" width="23.6" height="12.85" fill="#f28e2b" stroke="#1a1a1a" stroke-width="1"/>
<rect x="461.20" y="894.04" width="23.6" height="29.71" fill="#e0535a" stroke="#1a1a1a" stroke-width="1"/>
<rect x="461.20" y="880.03" width="23.6" height="14.01" fill="#76bcb3" stroke="#1a1a1a" stroke-width="1"/>
<rect x="461.20" y="835.78" width="23.6" height="44.24" fill="#4a73a8" stroke="#1a1a1a" stroke-width="1"/>
<rect x="520.20" y="910.91" width="23.6" height="25.69" fill="#f28e2b" stroke="#1a1a1a" stroke-width="1"/>
<rect x="520.20" y="859.14" width="23.6" height="51.77" fill="#e0535a" stroke="#1a1a1a" stroke-width="1"/>
<rect x="520.20" y="842.01" width="23.6" height="17.13" fill="#76bcb3" stroke="#1a1a1a" stroke-width="1"/>
<rect x="520.20" y="792.97" width="23.6" height="49.05" fill="#4a73a8" stroke="#1a1a1a" stroke-width="1"/>
<rect x="579.20" y="891.19" width="23.6" height="45.41" fill="#f28e2b" stroke="#1a1a1a" stroke-width="1"/>
<rect x="579.20" y="820.21" width="23.6" height="70.97" fill="#e0535a" stroke="#1a1a1a" stroke-width="1"/>
<rect x="579.20" y="781.94" width="23.6" height="38.28" fill="#76bcb3" stroke="#1a1a1a" stroke-width="1"/>
<rect x="579.20" y="692.02" width="23.6" height="89.92" fill="#4a73a8" stroke="#1a1a1a" stroke-width="1"/>
<polyline points="108,934.8 119,934.5 178,932.5 237,930.8 296,927.5 355,920.5 414.5,905 473.6,860.3 532.6,800.9 591,702.3" fill="none" stroke="#000" stroke-width="3.6" stroke-linejoin="round" stroke-linecap="round"/>
<text transform="translate(133.8,952.8) rotate(-45)" font-size="19.5" text-anchor="end">Before 1980</text>
<text transform="translate(192.8,952.8) rotate(-45)" font-size="19.5" text-anchor="end">1981-1985</text>
<text transform="translate(251.8,952.8) rotate(-45)" font-size="19.5" text-anchor="end">1986-1990</text>
<text transform="translate(310.8,952.8) rotate(-45)" font-size="19.5" text-anchor="end">1991-1995</text>
<text transform="translate(369.8,952.8) rotate(-45)" font-size="19.5" text-anchor="end">1996-2000</text>
<text transform="translate(428.8,952.8) rotate(-45)" font-size="19.5" text-anchor="end">2001-2005</text>
<text transform="translate(487.8,952.8) rotate(-45)" font-size="19.5" text-anchor="end">2006-2010</text>
<text transform="translate(546.8,952.8) rotate(-45)" font-size="19.5" text-anchor="end">2011-2015</text>
<text transform="translate(605.8,952.8) rotate(-45)" font-size="19.5" text-anchor="end">2016-2021</text>
<text transform="translate(23.8,805.3) rotate(-90)" font-size="19.5" text-anchor="middle">Number of Publications per Year</text>
<text transform="translate(695,802.5) rotate(-90)" font-size="19.5" text-anchor="middle">Cumulative publications</text>
<rect x="107.4" y="679.3" width="27" height="8" fill="#4a73a8" stroke="#1a1a1a" stroke-width="1.2"/>
<text x="147.8" y="687.7" font-size="19.5">Azores</text>
<rect x="107.4" y="706.5" width="27" height="8" fill="#76bcb3" stroke="#1a1a1a" stroke-width="1.2"/>
<text x="147.8" y="714.9" font-size="19.5">Madeira</text>
<rect x="107.4" y="733.2" width="27" height="8" fill="#e0535a" stroke="#1a1a1a" stroke-width="1.2"/>
<text x="147.8" y="741.6" font-size="19.5">Canary Islands</text>
<rect x="107.4" y="760.0" width="27" height="8" fill="#f28e2b" stroke="#1a1a1a" stroke-width="1.2"/>
<text x="147.8" y="768.4" font-size="19.5">Cabo Verde</text>
<line x1="107.6" y1="790.6" x2="134.2" y2="790.6" stroke="#000" stroke-width="3.4" stroke-linecap="round"/>
<text x="147.8" y="795.2" font-size="19.5">Cumulative</text>
</svg></body></html>
